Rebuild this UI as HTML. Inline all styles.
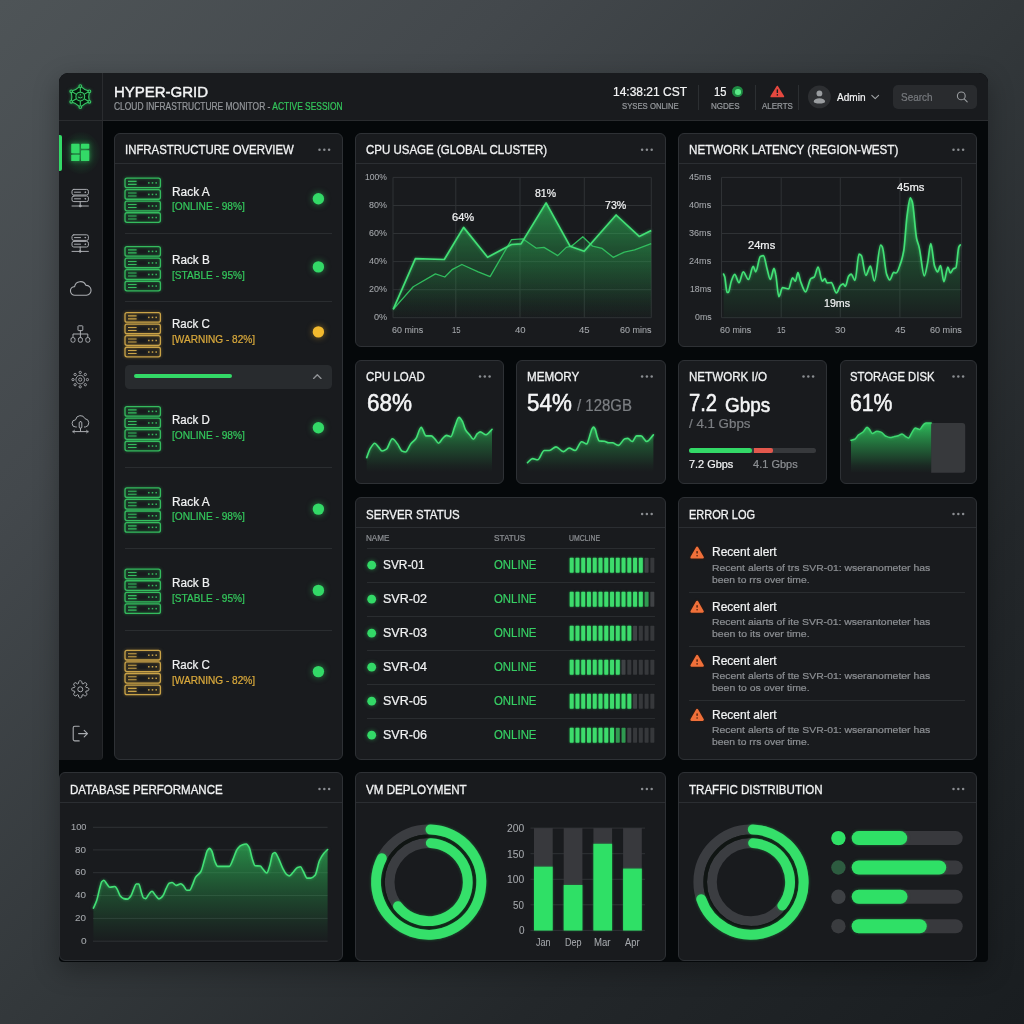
<!DOCTYPE html>
<html><head><meta charset="utf-8"><title>HYPER-GRID</title>
<style>
*{box-sizing:border-box;margin:0;padding:0}
html,body{width:1024px;height:1024px;overflow:hidden}
body{font-family:"Liberation Sans",sans-serif;background:linear-gradient(to bottom right,rgb(78,84,87) 0%,rgb(67,72,76) 25%,rgb(51,56,59) 50%,rgb(35,39,42) 75%,rgb(25,29,32) 100%);position:relative;color:#f1f2f3}
.abs{position:absolute}
#win{position:absolute;left:59px;top:73px;width:929.4px;height:889px;background:#05080a;border-radius:9px 9px 4px 4px;overflow:hidden;box-shadow:0 8px 26px rgba(0,0,0,.30)}
#hdr{position:absolute;left:59px;top:73px;width:929.4px;height:48px;background:#191b1e;border-radius:9px 9px 0 0;border-bottom:1px solid #2a2c2f}
#side{position:absolute;left:59px;top:121px;width:44px;height:638.6px;background:#181a1d;border-right:1px solid #26282b;border-radius:0 0 4px 0}
#logoCell{position:absolute;left:59px;top:73px;width:43.6px;height:48px;border-right:1px solid #2a2c2f}
.card{position:absolute;background:#191b1e;border:1px solid #2e3135;border-radius:6px}
.ct{position:absolute;font-size:12.5px;color:#f1f2f3;white-space:nowrap;letter-spacing:-0.1px}
.hl{position:absolute;height:1px;background:#2b2e32}
.t{position:absolute;white-space:nowrap;line-height:1;-webkit-text-stroke:0.22px currentColor}
.g{color:#8c8f93}
.gr{color:#34c75c}
.yl{color:#d9a93c}
svg{position:absolute;left:0;top:0;overflow:visible}
#root{position:absolute;left:0;top:0;width:1024px;height:1024px;will-change:transform}
</style></head><body><div id="root">
<div id="win"></div>
<div id="hdr"></div>
<div id="logoCell"></div>
<div id="side"></div>

<div class="card" style="left:114px;top:133px;width:229px;height:627px"></div>
<div class="t" style="left:124.70px;top:144.18px;font-size:12.4px;color:#f1f2f3;transform:scaleX(0.9198);transform-origin:0 0;-webkit-text-stroke:0.3px #f1f2f3;">INFRASTRUCTURE OVERVIEW</div>
<div class="hl" style="left:115px;top:163.0px;width:227px"></div>
<svg width="1024" height="1024"><g fill="#8a8d91"><circle cx="319.5" cy="149.7" r="1.25"/><circle cx="324.3" cy="149.7" r="1.25"/><circle cx="329.1" cy="149.7" r="1.25"/></g></svg>
<div class="card" style="left:355px;top:133px;width:310.6px;height:214px"></div>
<div class="t" style="left:365.70px;top:144.18px;font-size:12.4px;color:#f1f2f3;transform:scaleX(0.9281);transform-origin:0 0;-webkit-text-stroke:0.3px #f1f2f3;">CPU USAGE (GLOBAL CLUSTER)</div>
<div class="hl" style="left:356px;top:163.0px;width:308.6px"></div>
<svg width="1024" height="1024"><g fill="#8a8d91"><circle cx="642.1" cy="149.7" r="1.25"/><circle cx="646.9" cy="149.7" r="1.25"/><circle cx="651.7" cy="149.7" r="1.25"/></g></svg>
<div class="card" style="left:678px;top:133px;width:299px;height:214px"></div>
<div class="t" style="left:689.00px;top:144.18px;font-size:12.4px;color:#f1f2f3;transform:scaleX(0.9376);transform-origin:0 0;-webkit-text-stroke:0.3px #f1f2f3;">NETWORK LATENCY (REGION-WEST)</div>
<div class="hl" style="left:679px;top:163.0px;width:297px"></div>
<svg width="1024" height="1024"><g fill="#8a8d91"><circle cx="953.5" cy="149.7" r="1.25"/><circle cx="958.3" cy="149.7" r="1.25"/><circle cx="963.1" cy="149.7" r="1.25"/></g></svg>
<div class="card" style="left:355px;top:359.5px;width:148.5px;height:124.5px"></div>
<div class="t" style="left:365.70px;top:371.08px;font-size:12.4px;color:#f1f2f3;transform:scaleX(0.9275);transform-origin:0 0;-webkit-text-stroke:0.3px #f1f2f3;">CPU LOAD</div>
<svg width="1024" height="1024"><g fill="#8a8d91"><circle cx="480.0" cy="376.6" r="1.25"/><circle cx="484.8" cy="376.6" r="1.25"/><circle cx="489.6" cy="376.6" r="1.25"/></g></svg>
<div class="card" style="left:516px;top:359.5px;width:149.6px;height:124.5px"></div>
<div class="t" style="left:527.00px;top:371.08px;font-size:12.4px;color:#f1f2f3;transform:scaleX(0.9391);transform-origin:0 0;-webkit-text-stroke:0.3px #f1f2f3;">MEMORY</div>
<svg width="1024" height="1024"><g fill="#8a8d91"><circle cx="642.1" cy="376.6" r="1.25"/><circle cx="646.9" cy="376.6" r="1.25"/><circle cx="651.7" cy="376.6" r="1.25"/></g></svg>
<div class="card" style="left:678px;top:359.5px;width:149px;height:124.5px"></div>
<div class="t" style="left:689.00px;top:371.08px;font-size:12.4px;color:#f1f2f3;transform:scaleX(0.9357);transform-origin:0 0;-webkit-text-stroke:0.3px #f1f2f3;">NETWORK I/O</div>
<svg width="1024" height="1024"><g fill="#8a8d91"><circle cx="803.5" cy="376.6" r="1.25"/><circle cx="808.3" cy="376.6" r="1.25"/><circle cx="813.1" cy="376.6" r="1.25"/></g></svg>
<div class="card" style="left:839.5px;top:359.5px;width:137.5px;height:124.5px"></div>
<div class="t" style="left:850.20px;top:371.08px;font-size:12.4px;color:#f1f2f3;transform:scaleX(0.9107);transform-origin:0 0;-webkit-text-stroke:0.3px #f1f2f3;">STORAGE DISK</div>
<svg width="1024" height="1024"><g fill="#8a8d91"><circle cx="953.5" cy="376.6" r="1.25"/><circle cx="958.3" cy="376.6" r="1.25"/><circle cx="963.1" cy="376.6" r="1.25"/></g></svg>
<div class="card" style="left:355px;top:497px;width:310.6px;height:263px"></div>
<div class="t" style="left:365.70px;top:508.58px;font-size:12.4px;color:#f1f2f3;transform:scaleX(0.9242);transform-origin:0 0;-webkit-text-stroke:0.3px #f1f2f3;">SERVER STATUS</div>
<div class="hl" style="left:356px;top:527.4px;width:308.6px"></div>
<svg width="1024" height="1024"><g fill="#8a8d91"><circle cx="642.1" cy="514.1" r="1.25"/><circle cx="646.9" cy="514.1" r="1.25"/><circle cx="651.7" cy="514.1" r="1.25"/></g></svg>
<div class="card" style="left:678px;top:497px;width:299px;height:263px"></div>
<div class="t" style="left:689.00px;top:508.58px;font-size:12.4px;color:#f1f2f3;transform:scaleX(0.8884);transform-origin:0 0;-webkit-text-stroke:0.3px #f1f2f3;">ERROR LOG</div>
<div class="hl" style="left:679px;top:527.4px;width:297px"></div>
<svg width="1024" height="1024"><g fill="#8a8d91"><circle cx="953.5" cy="514.1" r="1.25"/><circle cx="958.3" cy="514.1" r="1.25"/><circle cx="963.1" cy="514.1" r="1.25"/></g></svg>
<div class="card" style="left:59px;top:772px;width:284px;height:189px"></div>
<div class="t" style="left:70.30px;top:783.58px;font-size:12.4px;color:#f1f2f3;transform:scaleX(0.9305);transform-origin:0 0;-webkit-text-stroke:0.3px #f1f2f3;">DATABASE PERFORMANCE</div>
<div class="hl" style="left:60px;top:802.4px;width:282px"></div>
<svg width="1024" height="1024"><g fill="#8a8d91"><circle cx="319.5" cy="789.1" r="1.25"/><circle cx="324.3" cy="789.1" r="1.25"/><circle cx="329.1" cy="789.1" r="1.25"/></g></svg>
<div class="card" style="left:355px;top:772px;width:310.6px;height:189px"></div>
<div class="t" style="left:365.70px;top:783.58px;font-size:12.4px;color:#f1f2f3;transform:scaleX(0.9369);transform-origin:0 0;-webkit-text-stroke:0.3px #f1f2f3;">VM DEPLOYMENT</div>
<div class="hl" style="left:356px;top:802.4px;width:308.6px"></div>
<svg width="1024" height="1024"><g fill="#8a8d91"><circle cx="642.1" cy="789.1" r="1.25"/><circle cx="646.9" cy="789.1" r="1.25"/><circle cx="651.7" cy="789.1" r="1.25"/></g></svg>
<div class="card" style="left:678px;top:772px;width:299px;height:189px"></div>
<div class="t" style="left:689.20px;top:783.58px;font-size:12.4px;color:#f1f2f3;transform:scaleX(0.9324);transform-origin:0 0;-webkit-text-stroke:0.3px #f1f2f3;">TRAFFIC DISTRIBUTION</div>
<div class="hl" style="left:679px;top:802.4px;width:297px"></div>
<svg width="1024" height="1024"><g fill="#8a8d91"><circle cx="953.5" cy="789.1" r="1.25"/><circle cx="958.3" cy="789.1" r="1.25"/><circle cx="963.1" cy="789.1" r="1.25"/></g></svg>
<svg width="1024" height="1024"><g fill="none" stroke="#38c766" stroke-width="1.08" stroke-linejoin="round" style="filter:drop-shadow(0 0 1.4px rgba(40,200,90,.5))">
<path d="M80.30,86.10 Q84.21,89.83 89.39,91.35 Q88.12,96.60 89.39,101.85 Q84.21,103.37 80.30,107.10 Q76.39,103.37 71.21,101.85 Q72.48,96.60 71.21,91.35 Q76.39,89.83 80.30,86.10Z" fill="#07170d"/><path d="M80.3,92.2 L80.3,86.1 M84.1,94.4 L89.4,91.3 M84.1,98.8 L89.4,101.8 M80.3,101.0 L80.3,107.1 M76.5,98.8 L71.2,101.8 M76.5,94.4 L71.2,91.3 "/><circle cx="80.3" cy="96.6" r="4.4" fill="#0d2a17"/><circle cx="80.3" cy="86.1" r="1.35" fill="#123a20"/><circle cx="89.4" cy="91.3" r="1.35" fill="#123a20"/><circle cx="89.4" cy="101.8" r="1.35" fill="#123a20"/><circle cx="80.3" cy="107.1" r="1.35" fill="#123a20"/><circle cx="71.2" cy="101.8" r="1.35" fill="#123a20"/><circle cx="71.2" cy="91.3" r="1.35" fill="#123a20"/>
<path d="M78.0,97.0 q2.3,1.9 4.6,0" stroke-width="1"/><path d="M80.3,94.0 v1.4" stroke-width="0.9"/></g></svg>
<div class="t" style="left:113.90px;top:84.24px;font-size:15px;color:#f3f4f5;-webkit-text-stroke:0.45px #f3f4f5;">HYPER-GRID</div>
<div class="t" style="left:113.90px;top:101.94px;font-size:10.4px;color:#95989c;transform:scaleX(0.8120);transform-origin:0 0;">CLOUD INFRASTRUCTURE MONITOR - <span style="color:#34c75c">ACTIVE SESSION</span></div>
<div class="t" style="left:613.00px;top:86.26px;font-size:12.6px;color:#f3f4f5;transform:scaleX(0.9519);transform-origin:0 0;">14:38:21 CST</div>
<div class="t" style="left:622.00px;top:101.79px;font-size:8.5px;color:#95989c;transform:scaleX(0.9094);transform-origin:0 0;">SYSES ONLINE</div>
<div class="abs" style="left:698px;top:85px;width:1px;height:25px;background:#2c2f32"></div>
<div class="t" style="left:714.30px;top:86.26px;font-size:12.6px;color:#f3f4f5;transform:scaleX(0.8846);transform-origin:0 0;">15</div>
<div class="abs" style="left:732.2px;top:86.2px;width:11.2px;height:11.2px;border-radius:50%;background:#1f8a43"></div>
<div class="abs" style="left:735px;top:89px;width:5.6px;height:5.6px;border-radius:50%;background:#5bea88"></div>
<div class="t" style="left:711.20px;top:101.79px;font-size:8.5px;color:#95989c;transform:scaleX(0.9432);transform-origin:0 0;">NGDES</div>
<div class="abs" style="left:755px;top:85px;width:1px;height:25px;background:#2c2f32"></div>
<svg width="1024" height="1024"><path d="M777.3,86.6 L783.3,96.4 L771.3,96.4 Z" fill="#e5483f" stroke="#e5483f" stroke-width="1.8" stroke-linejoin="round"/>
<rect x="776.65" y="89.3" width="1.4" height="3.8" rx="0.6" fill="#1b1d20"/><circle cx="777.35" cy="94.9" r="0.8" fill="#1b1d20"/></svg>
<div class="t" style="left:761.70px;top:101.79px;font-size:8.5px;color:#95989c;transform:scaleX(0.9357);transform-origin:0 0;">ALERTS</div>
<div class="abs" style="left:798px;top:85px;width:1px;height:25px;background:#2c2f32"></div>
<svg width="1024" height="1024"><circle cx="819.4" cy="96.9" r="11.4" fill="#2d2f32"/>
<circle cx="819.4" cy="93.4" r="2.9" fill="#9a9da0"/><path d="M813.7,101.7 a5.7,3.4 0 0 1 11.4,0 a5.7,1.8 0 0 1 -11.4,0Z" fill="#9a9da0"/></svg>
<div class="t" style="left:837.10px;top:92.14px;font-size:11.2px;color:#f3f4f5;transform:scaleX(0.9007);transform-origin:0 0;">Admin</div>
<svg width="1024" height="1024"><path d="M871.8,95.3 L875.2,98.6 L878.6,95.3" fill="none" stroke="#a0a3a6" stroke-width="1.1" stroke-linecap="round" stroke-linejoin="round"/></svg>
<div class="abs" style="left:892.5px;top:85px;width:84.5px;height:24px;border-radius:5px;background:#292b2e"></div>
<div class="t" style="left:900.70px;top:92.14px;font-size:11.2px;color:#777a7e;transform:scaleX(0.8879);transform-origin:0 0;">Search</div>
<svg width="1024" height="1024"><circle cx="961.3" cy="95.9" r="3.9" fill="none" stroke="#9a9da0" stroke-width="1.1"/><path d="M964.2,98.8 L967.2,101.8" stroke="#9a9da0" stroke-width="1.1" stroke-linecap="round"/></svg>
<div class="abs" style="left:59px;top:135px;width:3.2px;height:36px;background:#33d967;border-radius:0 2px 2px 0"></div>
<div class="abs" style="left:62px;top:132px;width:38px;height:42px;background:radial-gradient(ellipse at center,rgba(40,200,90,.26) 0%,rgba(40,200,90,.11) 45%,rgba(40,200,90,0) 74%)"></div>
<svg width="1024" height="1024"><g fill="#33d967" style="filter:drop-shadow(0 0 2.5px rgba(50,220,100,.6))">
<rect x="71.2" y="143.8" width="8.3" height="9.4" rx="0.6"/><rect x="71.2" y="154.7" width="8.3" height="6.3" rx="0.6"/>
<rect x="81" y="143.8" width="8.3" height="4.9" rx="0.6"/><rect x="81" y="150.2" width="8.3" height="10.8" rx="0.6"/></g></svg>
<svg width="1024" height="1024"><g fill="none" stroke="#a9acb0" stroke-width="1" stroke-linecap="round">
<rect x="72" y="189.4" width="16.4" height="5.6" rx="1.8"/><rect x="72" y="196.0" width="16.4" height="5.6" rx="1.8"/>
<path d="M74.5,192.20000000000002 h6 M74.5,198.8 h6 M80.2,201.6 v3.8 M72,206.0 h16.4"/>
<circle cx="85.2" cy="192.20000000000002" r="0.4"/><circle cx="85.2" cy="198.8" r="0.4"/><circle cx="80.2" cy="206.0" r="0.9" fill="#a9acb0"/></g><g fill="none" stroke="#a9acb0" stroke-width="1" stroke-linecap="round">
<rect x="72" y="234.8" width="16.4" height="5.6" rx="1.8"/><rect x="72" y="241.4" width="16.4" height="5.6" rx="1.8"/>
<path d="M74.5,237.60000000000002 h6 M74.5,244.20000000000002 h6 M80.2,247.0 v3.8 M72,251.4 h16.4"/>
<circle cx="85.2" cy="237.60000000000002" r="0.4"/><circle cx="85.2" cy="244.20000000000002" r="0.4"/><circle cx="80.2" cy="251.4" r="0.9" fill="#a9acb0"/></g></svg>
<svg width="1024" height="1024"><path d="M74.9,295.2 a4.3,4.3 0 0 1 -0.3,-8.6 a5.9,5.9 0 0 1 11.3,-1.2 a4.9,4.9 0 0 1 0.5,9.8 Z" fill="none" stroke="#a9acb0" stroke-width="1.1" stroke-linejoin="round"/></svg>
<svg width="1024" height="1024"><g fill="none" stroke="#a9acb0" stroke-width="1" stroke-linejoin="round">
<rect x="78" y="325.8" width="4.8" height="4.8" rx="0.6"/><path d="M80.4,330.6 v3.4 M73,337.6 v-3.6 h14.8 v3.6 M80.4,334 v3.6"/>
<rect x="71" y="337.6" width="4" height="4.6" rx="1.6"/><rect x="78.4" y="337.6" width="4" height="4.6" rx="1.6"/><rect x="85.8" y="337.6" width="4" height="4.6" rx="1.6"/></g></svg>
<svg width="1024" height="1024"><g fill="none" stroke="#a9acb0" stroke-width="0.9"><circle cx="80.2" cy="379.6" r="4.3"/><circle cx="80.2" cy="379.6" r="1.6"/><circle cx="80.2" cy="372.4" r="1.15"/><circle cx="85.3" cy="374.5" r="1.15"/><circle cx="87.4" cy="379.6" r="1.15"/><circle cx="85.3" cy="384.7" r="1.15"/><circle cx="80.2" cy="386.8" r="1.15"/><circle cx="75.1" cy="384.7" r="1.15"/><circle cx="73.0" cy="379.6" r="1.15"/><circle cx="75.1" cy="374.5" r="1.15"/></g></svg>
<svg width="1024" height="1024"><g fill="none" stroke="#a9acb0" stroke-width="1" stroke-linejoin="round" stroke-linecap="round">
<path d="M76.4,427 h-0.6 a3.6,3.6 0 0 1 -0.2,-7.2 a4.9,4.9 0 0 1 9.4,-1.1 a4.2,4.2 0 0 1 0.4,8.3 h-1"/>
<rect x="79.2" y="421.6" width="2.6" height="6.6" rx="1.2"/><path d="M80.5,428.2 v3 M73,431.6 h15 M73,431.6 l1.4,-1.2 M73,431.6 l1.4,1.2 M88,431.6 l-1.4,-1.2 M88,431.6 l-1.4,1.2"/></g></svg>
<svg width="1024" height="1024"><g fill="none" stroke="#a9acb0" stroke-width="1" stroke-linejoin="round"><path d="M78.79,681.55 A1.8,1.8 0 0 1 81.81,681.55 L82.14,683.59 L83.04,683.96 L84.72,682.75 A1.8,1.8 0 0 1 86.85,684.88 L85.64,686.56 L86.01,687.46 L88.05,687.79 A1.8,1.8 0 0 1 88.05,690.81 L86.01,691.14 L85.64,692.04 L86.85,693.72 A1.8,1.8 0 0 1 84.72,695.85 L83.04,694.64 L82.14,695.01 L81.81,697.05 A1.8,1.8 0 0 1 78.79,697.05 L78.46,695.01 L77.56,694.64 L75.88,695.85 A1.8,1.8 0 0 1 73.75,693.72 L74.96,692.04 L74.59,691.14 L72.55,690.81 A1.8,1.8 0 0 1 72.55,687.79 L74.59,687.46 L74.96,686.56 L73.75,684.88 A1.8,1.8 0 0 1 75.88,682.75 L77.56,683.96 L78.46,683.59 Z"/><circle cx="80.3" cy="689.3" r="2.5"/></g></svg>
<svg width="1024" height="1024"><g fill="none" stroke="#a9acb0" stroke-width="1.1" stroke-linejoin="round" stroke-linecap="round">
<path d="M79.2,726.2 h-4.4 a1.6,1.6 0 0 0 -1.6,1.6 v11.5 a1.6,1.6 0 0 0 1.6,1.6 h4.4"/><path d="M78.6,733.6 h8.8 M84.2,730.4 l3.3,3.2 l-3.3,3.2"/></g></svg>
<svg width="1024" height="1024"><g fill="none" stroke="#35bb5e" stroke-width="1.3" style="filter:drop-shadow(0 0 1.6px rgba(40,200,90,.55))"><rect x="125" y="178.10" width="35.4" height="9.6" rx="2"/><path d="M128,181.40 h8.6 M128,184.40 h8.6" stroke-width="1.1"/><rect x="148.05" y="182.15" width="1.5" height="1.5" fill="#35bb5e" stroke="none"/><rect x="151.75" y="182.15" width="1.5" height="1.5" fill="#35bb5e" stroke="none"/><rect x="155.45" y="182.15" width="1.5" height="1.5" fill="#35bb5e" stroke="none"/><rect x="125" y="189.65" width="35.4" height="9.6" rx="2"/><path d="M128,192.95 h8.6 M128,195.95 h8.6" stroke-width="1.1"/><rect x="148.05" y="193.70" width="1.5" height="1.5" fill="#35bb5e" stroke="none"/><rect x="151.75" y="193.70" width="1.5" height="1.5" fill="#35bb5e" stroke="none"/><rect x="155.45" y="193.70" width="1.5" height="1.5" fill="#35bb5e" stroke="none"/><rect x="125" y="201.20" width="35.4" height="9.6" rx="2"/><path d="M128,204.50 h8.6 M128,207.50 h8.6" stroke-width="1.1"/><rect x="148.05" y="205.25" width="1.5" height="1.5" fill="#35bb5e" stroke="none"/><rect x="151.75" y="205.25" width="1.5" height="1.5" fill="#35bb5e" stroke="none"/><rect x="155.45" y="205.25" width="1.5" height="1.5" fill="#35bb5e" stroke="none"/><rect x="125" y="212.75" width="35.4" height="9.6" rx="2"/><path d="M128,216.05 h8.6 M128,219.05 h8.6" stroke-width="1.1"/><rect x="148.05" y="216.80" width="1.5" height="1.5" fill="#35bb5e" stroke="none"/><rect x="151.75" y="216.80" width="1.5" height="1.5" fill="#35bb5e" stroke="none"/><rect x="155.45" y="216.80" width="1.5" height="1.5" fill="#35bb5e" stroke="none"/></g><circle cx="318.4" cy="198.8" r="5.7" fill="#33d967" style="filter:drop-shadow(0 0 3px rgba(50,220,100,.55))"/><g fill="none" stroke="#35bb5e" stroke-width="1.3" style="filter:drop-shadow(0 0 1.6px rgba(40,200,90,.55))"><rect x="125" y="246.60" width="35.4" height="9.6" rx="2"/><path d="M128,249.90 h8.6 M128,252.90 h8.6" stroke-width="1.1"/><rect x="148.05" y="250.65" width="1.5" height="1.5" fill="#35bb5e" stroke="none"/><rect x="151.75" y="250.65" width="1.5" height="1.5" fill="#35bb5e" stroke="none"/><rect x="155.45" y="250.65" width="1.5" height="1.5" fill="#35bb5e" stroke="none"/><rect x="125" y="258.15" width="35.4" height="9.6" rx="2"/><path d="M128,261.45 h8.6 M128,264.45 h8.6" stroke-width="1.1"/><rect x="148.05" y="262.20" width="1.5" height="1.5" fill="#35bb5e" stroke="none"/><rect x="151.75" y="262.20" width="1.5" height="1.5" fill="#35bb5e" stroke="none"/><rect x="155.45" y="262.20" width="1.5" height="1.5" fill="#35bb5e" stroke="none"/><rect x="125" y="269.70" width="35.4" height="9.6" rx="2"/><path d="M128,273.00 h8.6 M128,276.00 h8.6" stroke-width="1.1"/><rect x="148.05" y="273.75" width="1.5" height="1.5" fill="#35bb5e" stroke="none"/><rect x="151.75" y="273.75" width="1.5" height="1.5" fill="#35bb5e" stroke="none"/><rect x="155.45" y="273.75" width="1.5" height="1.5" fill="#35bb5e" stroke="none"/><rect x="125" y="281.25" width="35.4" height="9.6" rx="2"/><path d="M128,284.55 h8.6 M128,287.55 h8.6" stroke-width="1.1"/><rect x="148.05" y="285.30" width="1.5" height="1.5" fill="#35bb5e" stroke="none"/><rect x="151.75" y="285.30" width="1.5" height="1.5" fill="#35bb5e" stroke="none"/><rect x="155.45" y="285.30" width="1.5" height="1.5" fill="#35bb5e" stroke="none"/></g><circle cx="318.4" cy="266.9" r="5.7" fill="#33d967" style="filter:drop-shadow(0 0 3px rgba(50,220,100,.55))"/><g fill="none" stroke="#c9a348" stroke-width="1.3" style="filter:drop-shadow(0 0 1.6px rgba(220,170,60,.5))"><rect x="125" y="312.60" width="35.4" height="9.6" rx="2"/><path d="M128,315.90 h8.6 M128,318.90 h8.6" stroke-width="1.1"/><rect x="148.05" y="316.65" width="1.5" height="1.5" fill="#c9a348" stroke="none"/><rect x="151.75" y="316.65" width="1.5" height="1.5" fill="#c9a348" stroke="none"/><rect x="155.45" y="316.65" width="1.5" height="1.5" fill="#c9a348" stroke="none"/><rect x="125" y="324.15" width="35.4" height="9.6" rx="2"/><path d="M128,327.45 h8.6 M128,330.45 h8.6" stroke-width="1.1"/><rect x="148.05" y="328.20" width="1.5" height="1.5" fill="#c9a348" stroke="none"/><rect x="151.75" y="328.20" width="1.5" height="1.5" fill="#c9a348" stroke="none"/><rect x="155.45" y="328.20" width="1.5" height="1.5" fill="#c9a348" stroke="none"/><rect x="125" y="335.70" width="35.4" height="9.6" rx="2"/><path d="M128,339.00 h8.6 M128,342.00 h8.6" stroke-width="1.1"/><rect x="148.05" y="339.75" width="1.5" height="1.5" fill="#c9a348" stroke="none"/><rect x="151.75" y="339.75" width="1.5" height="1.5" fill="#c9a348" stroke="none"/><rect x="155.45" y="339.75" width="1.5" height="1.5" fill="#c9a348" stroke="none"/><rect x="125" y="347.25" width="35.4" height="9.6" rx="2"/><path d="M128,350.55 h8.6 M128,353.55 h8.6" stroke-width="1.1"/><rect x="148.05" y="351.30" width="1.5" height="1.5" fill="#c9a348" stroke="none"/><rect x="151.75" y="351.30" width="1.5" height="1.5" fill="#c9a348" stroke="none"/><rect x="155.45" y="351.30" width="1.5" height="1.5" fill="#c9a348" stroke="none"/></g><circle cx="318.4" cy="331.9" r="5.7" fill="#f2b92e" style="filter:drop-shadow(0 0 3px rgba(240,180,40,.5))"/><g fill="none" stroke="#35bb5e" stroke-width="1.3" style="filter:drop-shadow(0 0 1.6px rgba(40,200,90,.55))"><rect x="125" y="406.60" width="35.4" height="9.6" rx="2"/><path d="M128,409.90 h8.6 M128,412.90 h8.6" stroke-width="1.1"/><rect x="148.05" y="410.65" width="1.5" height="1.5" fill="#35bb5e" stroke="none"/><rect x="151.75" y="410.65" width="1.5" height="1.5" fill="#35bb5e" stroke="none"/><rect x="155.45" y="410.65" width="1.5" height="1.5" fill="#35bb5e" stroke="none"/><rect x="125" y="418.15" width="35.4" height="9.6" rx="2"/><path d="M128,421.45 h8.6 M128,424.45 h8.6" stroke-width="1.1"/><rect x="148.05" y="422.20" width="1.5" height="1.5" fill="#35bb5e" stroke="none"/><rect x="151.75" y="422.20" width="1.5" height="1.5" fill="#35bb5e" stroke="none"/><rect x="155.45" y="422.20" width="1.5" height="1.5" fill="#35bb5e" stroke="none"/><rect x="125" y="429.70" width="35.4" height="9.6" rx="2"/><path d="M128,433.00 h8.6 M128,436.00 h8.6" stroke-width="1.1"/><rect x="148.05" y="433.75" width="1.5" height="1.5" fill="#35bb5e" stroke="none"/><rect x="151.75" y="433.75" width="1.5" height="1.5" fill="#35bb5e" stroke="none"/><rect x="155.45" y="433.75" width="1.5" height="1.5" fill="#35bb5e" stroke="none"/><rect x="125" y="441.25" width="35.4" height="9.6" rx="2"/><path d="M128,444.55 h8.6 M128,447.55 h8.6" stroke-width="1.1"/><rect x="148.05" y="445.30" width="1.5" height="1.5" fill="#35bb5e" stroke="none"/><rect x="151.75" y="445.30" width="1.5" height="1.5" fill="#35bb5e" stroke="none"/><rect x="155.45" y="445.30" width="1.5" height="1.5" fill="#35bb5e" stroke="none"/></g><circle cx="318.4" cy="427.8" r="5.7" fill="#33d967" style="filter:drop-shadow(0 0 3px rgba(50,220,100,.55))"/><g fill="none" stroke="#35bb5e" stroke-width="1.3" style="filter:drop-shadow(0 0 1.6px rgba(40,200,90,.55))"><rect x="125" y="487.90" width="35.4" height="9.6" rx="2"/><path d="M128,491.20 h8.6 M128,494.20 h8.6" stroke-width="1.1"/><rect x="148.05" y="491.95" width="1.5" height="1.5" fill="#35bb5e" stroke="none"/><rect x="151.75" y="491.95" width="1.5" height="1.5" fill="#35bb5e" stroke="none"/><rect x="155.45" y="491.95" width="1.5" height="1.5" fill="#35bb5e" stroke="none"/><rect x="125" y="499.45" width="35.4" height="9.6" rx="2"/><path d="M128,502.75 h8.6 M128,505.75 h8.6" stroke-width="1.1"/><rect x="148.05" y="503.50" width="1.5" height="1.5" fill="#35bb5e" stroke="none"/><rect x="151.75" y="503.50" width="1.5" height="1.5" fill="#35bb5e" stroke="none"/><rect x="155.45" y="503.50" width="1.5" height="1.5" fill="#35bb5e" stroke="none"/><rect x="125" y="511.00" width="35.4" height="9.6" rx="2"/><path d="M128,514.30 h8.6 M128,517.30 h8.6" stroke-width="1.1"/><rect x="148.05" y="515.05" width="1.5" height="1.5" fill="#35bb5e" stroke="none"/><rect x="151.75" y="515.05" width="1.5" height="1.5" fill="#35bb5e" stroke="none"/><rect x="155.45" y="515.05" width="1.5" height="1.5" fill="#35bb5e" stroke="none"/><rect x="125" y="522.55" width="35.4" height="9.6" rx="2"/><path d="M128,525.85 h8.6 M128,528.85 h8.6" stroke-width="1.1"/><rect x="148.05" y="526.60" width="1.5" height="1.5" fill="#35bb5e" stroke="none"/><rect x="151.75" y="526.60" width="1.5" height="1.5" fill="#35bb5e" stroke="none"/><rect x="155.45" y="526.60" width="1.5" height="1.5" fill="#35bb5e" stroke="none"/></g><circle cx="318.4" cy="509.1" r="5.7" fill="#33d967" style="filter:drop-shadow(0 0 3px rgba(50,220,100,.55))"/><g fill="none" stroke="#35bb5e" stroke-width="1.3" style="filter:drop-shadow(0 0 1.6px rgba(40,200,90,.55))"><rect x="125" y="569.20" width="35.4" height="9.6" rx="2"/><path d="M128,572.50 h8.6 M128,575.50 h8.6" stroke-width="1.1"/><rect x="148.05" y="573.25" width="1.5" height="1.5" fill="#35bb5e" stroke="none"/><rect x="151.75" y="573.25" width="1.5" height="1.5" fill="#35bb5e" stroke="none"/><rect x="155.45" y="573.25" width="1.5" height="1.5" fill="#35bb5e" stroke="none"/><rect x="125" y="580.75" width="35.4" height="9.6" rx="2"/><path d="M128,584.05 h8.6 M128,587.05 h8.6" stroke-width="1.1"/><rect x="148.05" y="584.80" width="1.5" height="1.5" fill="#35bb5e" stroke="none"/><rect x="151.75" y="584.80" width="1.5" height="1.5" fill="#35bb5e" stroke="none"/><rect x="155.45" y="584.80" width="1.5" height="1.5" fill="#35bb5e" stroke="none"/><rect x="125" y="592.30" width="35.4" height="9.6" rx="2"/><path d="M128,595.60 h8.6 M128,598.60 h8.6" stroke-width="1.1"/><rect x="148.05" y="596.35" width="1.5" height="1.5" fill="#35bb5e" stroke="none"/><rect x="151.75" y="596.35" width="1.5" height="1.5" fill="#35bb5e" stroke="none"/><rect x="155.45" y="596.35" width="1.5" height="1.5" fill="#35bb5e" stroke="none"/><rect x="125" y="603.85" width="35.4" height="9.6" rx="2"/><path d="M128,607.15 h8.6 M128,610.15 h8.6" stroke-width="1.1"/><rect x="148.05" y="607.90" width="1.5" height="1.5" fill="#35bb5e" stroke="none"/><rect x="151.75" y="607.90" width="1.5" height="1.5" fill="#35bb5e" stroke="none"/><rect x="155.45" y="607.90" width="1.5" height="1.5" fill="#35bb5e" stroke="none"/></g><circle cx="318.4" cy="590.4" r="5.7" fill="#33d967" style="filter:drop-shadow(0 0 3px rgba(50,220,100,.55))"/><g fill="none" stroke="#c9a348" stroke-width="1.3" style="filter:drop-shadow(0 0 1.6px rgba(220,170,60,.5))"><rect x="125" y="650.40" width="35.4" height="9.6" rx="2"/><path d="M128,653.70 h8.6 M128,656.70 h8.6" stroke-width="1.1"/><rect x="148.05" y="654.45" width="1.5" height="1.5" fill="#c9a348" stroke="none"/><rect x="151.75" y="654.45" width="1.5" height="1.5" fill="#c9a348" stroke="none"/><rect x="155.45" y="654.45" width="1.5" height="1.5" fill="#c9a348" stroke="none"/><rect x="125" y="661.95" width="35.4" height="9.6" rx="2"/><path d="M128,665.25 h8.6 M128,668.25 h8.6" stroke-width="1.1"/><rect x="148.05" y="666.00" width="1.5" height="1.5" fill="#c9a348" stroke="none"/><rect x="151.75" y="666.00" width="1.5" height="1.5" fill="#c9a348" stroke="none"/><rect x="155.45" y="666.00" width="1.5" height="1.5" fill="#c9a348" stroke="none"/><rect x="125" y="673.50" width="35.4" height="9.6" rx="2"/><path d="M128,676.80 h8.6 M128,679.80 h8.6" stroke-width="1.1"/><rect x="148.05" y="677.55" width="1.5" height="1.5" fill="#c9a348" stroke="none"/><rect x="151.75" y="677.55" width="1.5" height="1.5" fill="#c9a348" stroke="none"/><rect x="155.45" y="677.55" width="1.5" height="1.5" fill="#c9a348" stroke="none"/><rect x="125" y="685.05" width="35.4" height="9.6" rx="2"/><path d="M128,688.35 h8.6 M128,691.35 h8.6" stroke-width="1.1"/><rect x="148.05" y="689.10" width="1.5" height="1.5" fill="#c9a348" stroke="none"/><rect x="151.75" y="689.10" width="1.5" height="1.5" fill="#c9a348" stroke="none"/><rect x="155.45" y="689.10" width="1.5" height="1.5" fill="#c9a348" stroke="none"/></g><circle cx="318.4" cy="671.6" r="5.7" fill="#33d967" style="filter:drop-shadow(0 0 3px rgba(50,220,100,.55))"/></svg>
<div class="t" style="left:172.40px;top:185.68px;font-size:12px;color:#f1f2f3;transform:scaleX(0.9918);transform-origin:0 0;">Rack A</div>
<div class="t" style="left:172.40px;top:201.13px;font-size:10.5px;color:#34c75c;transform:scaleX(0.9683);transform-origin:0 0;">[ONLINE - 98%]</div>
<div class="t" style="left:172.40px;top:254.03px;font-size:12px;color:#f1f2f3;transform:scaleX(0.9749);transform-origin:0 0;">Rack B</div>
<div class="t" style="left:172.40px;top:269.88px;font-size:10.5px;color:#34c75c;transform:scaleX(0.9633);transform-origin:0 0;">[STABLE - 95%]</div>
<div class="t" style="left:172.40px;top:318.18px;font-size:12px;color:#f1f2f3;transform:scaleX(0.9586);transform-origin:0 0;">Rack C</div>
<div class="t" style="left:172.40px;top:333.63px;font-size:10.5px;color:#d9a93c;transform:scaleX(0.9602);transform-origin:0 0;">[WARNING - 82%]</div>
<div class="t" style="left:172.40px;top:414.43px;font-size:12px;color:#f1f2f3;transform:scaleX(0.9586);transform-origin:0 0;">Rack D</div>
<div class="t" style="left:172.40px;top:430.13px;font-size:10.5px;color:#34c75c;transform:scaleX(0.9683);transform-origin:0 0;">[ONLINE - 98%]</div>
<div class="t" style="left:172.40px;top:495.98px;font-size:12px;color:#f1f2f3;transform:scaleX(0.9918);transform-origin:0 0;">Rack A</div>
<div class="t" style="left:172.40px;top:511.18px;font-size:10.5px;color:#34c75c;transform:scaleX(0.9683);transform-origin:0 0;">[ONLINE - 98%]</div>
<div class="t" style="left:172.40px;top:577.18px;font-size:12px;color:#f1f2f3;transform:scaleX(0.9749);transform-origin:0 0;">Rack B</div>
<div class="t" style="left:172.40px;top:593.03px;font-size:10.5px;color:#34c75c;transform:scaleX(0.9633);transform-origin:0 0;">[STABLE - 95%]</div>
<div class="t" style="left:172.40px;top:658.73px;font-size:12px;color:#f1f2f3;transform:scaleX(0.9586);transform-origin:0 0;">Rack C</div>
<div class="t" style="left:172.40px;top:675.03px;font-size:10.5px;color:#d9a93c;transform:scaleX(0.9602);transform-origin:0 0;">[WARNING - 82%]</div>
<div class="hl" style="left:124.5px;top:232.5px;width:207px;background:#2a2d30"></div>
<div class="hl" style="left:124.5px;top:300.7px;width:207px;background:#2a2d30"></div>
<div class="hl" style="left:124.5px;top:467px;width:207px;background:#2a2d30"></div>
<div class="hl" style="left:124.5px;top:548.3px;width:207px;background:#2a2d30"></div>
<div class="hl" style="left:124.5px;top:630px;width:207px;background:#2a2d30"></div>
<div class="abs" style="left:124.5px;top:364.8px;width:207px;height:24px;border-radius:4.5px;background:#282b2e"></div>
<div class="abs" style="left:133.7px;top:373.8px;width:98.5px;height:4.6px;border-radius:3px;background:#33d967"></div>
<svg width="1024" height="1024"><path d="M313.6,378.4 L317.3,374.7 L321,378.4" fill="none" stroke="#909396" stroke-width="1.35" stroke-linecap="round" stroke-linejoin="round"/></svg>
<svg width="0" height="0"><defs>
<linearGradient id="gA" gradientUnits="userSpaceOnUse" x1="0" y1="203" x2="0" y2="318"><stop offset="0" stop-color="#30c25d" stop-opacity=".64"/><stop offset=".5" stop-color="#2aa850" stop-opacity=".30"/><stop offset=".85" stop-color="#2aa850" stop-opacity=".07"/><stop offset="1" stop-color="#2aa850" stop-opacity=".01"/></linearGradient>
<linearGradient id="gB" x1="0" y1="0" x2="0" y2="1"><stop offset="0" stop-color="#2fbf5b" stop-opacity=".45"/><stop offset="1" stop-color="#2aa850" stop-opacity="0"/></linearGradient>
<linearGradient id="gN" gradientUnits="userSpaceOnUse" x1="0" y1="200" x2="0" y2="318"><stop offset="0" stop-color="#2fbf5b" stop-opacity=".75"/><stop offset=".5" stop-color="#2aa850" stop-opacity=".30"/><stop offset="1" stop-color="#2aa850" stop-opacity=".03"/></linearGradient>
<linearGradient id="gS" gradientUnits="userSpaceOnUse" x1="0" y1="418" x2="0" y2="472"><stop offset="0" stop-color="#2fc45e" stop-opacity=".80"/><stop offset=".5" stop-color="#2aa850" stop-opacity=".36"/><stop offset=".88" stop-color="#2aa850" stop-opacity=".06"/><stop offset="1" stop-color="#2aa850" stop-opacity="0"/></linearGradient>
<linearGradient id="gT" gradientUnits="userSpaceOnUse" x1="0" y1="423" x2="0" y2="473"><stop offset="0" stop-color="#2fc45e" stop-opacity=".95"/><stop offset=".45" stop-color="#2aa850" stop-opacity=".55"/><stop offset=".85" stop-color="#2aa850" stop-opacity=".10"/><stop offset="1" stop-color="#2aa850" stop-opacity="0"/></linearGradient>
<linearGradient id="gD" gradientUnits="userSpaceOnUse" x1="0" y1="845" x2="0" y2="941"><stop offset="0" stop-color="#2fbf5b" stop-opacity=".68"/><stop offset=".5" stop-color="#2aa850" stop-opacity=".34"/><stop offset=".85" stop-color="#2aa850" stop-opacity=".09"/><stop offset="1" stop-color="#2aa850" stop-opacity=".01"/></linearGradient>
</defs></svg>
<svg width="1024" height="1024"><g stroke="#2f3235" stroke-width="1" fill="none"><path d="M393,177.4 H651.3"/><path d="M393,205.5 H651.3"/><path d="M393,233.5 H651.3"/><path d="M393,261.6 H651.3"/><path d="M393,289.7 H651.3"/><path d="M393,317.7 H651.3"/><path d="M393,177.4 V317.7"/><path d="M455.8,177.4 V317.7"/><path d="M520,177.4 V317.7"/><path d="M584.3,177.4 V317.7"/><path d="M651.3,177.4 V317.7"/></g><path d="M393.2,309.4 L413.2,286.7 L435.4,273.9 L444.8,277.0 L452.5,269.3 L461.9,264.5 L478.2,271.8 L490.1,276.6 L511.5,239.7 L522.7,238.8 L536.4,248.2 L544.0,247.4 L557.7,255.6 L566.3,247.4 L571.4,246.2 L582.8,236.8 L592.7,246.2 L602.1,248.4 L613.2,257.3 L624.3,252.1 L634.6,249.9 L651.2,243.6 L651.2,317.7 L393.2,317.7 Z" fill="url(#gB)" opacity=".45"/><path d="M393.2,309.4 L415.4,258.7 L444.3,259.5 L463.6,227.4 L487.6,257.3 L511.5,244.5 L521.0,243.9 L546.1,202.9 L570.0,246.2 L584.2,251.3 L616.1,215.0 L639.2,236.4 L651.2,230.4 L651.2,317.7 L393.2,317.7 Z" fill="url(#gA)"/><path d="M393.2,309.4 L413.2,286.7 L435.4,273.9 L444.8,277.0 L452.5,269.3 L461.9,264.5 L478.2,271.8 L490.1,276.6 L511.5,239.7 L522.7,238.8 L536.4,248.2 L544.0,247.4 L557.7,255.6 L566.3,247.4 L571.4,246.2 L582.8,236.8 L592.7,246.2 L602.1,248.4 L613.2,257.3 L624.3,252.1 L634.6,249.9 L651.2,243.6" fill="none" stroke="#31bd5e" stroke-width="1.3" stroke-linejoin="round"/><path d="M393.2,309.4 L415.4,258.7 L444.3,259.5 L463.6,227.4 L487.6,257.3 L511.5,244.5 L521.0,243.9 L546.1,202.9 L570.0,246.2 L584.2,251.3 L616.1,215.0 L639.2,236.4 L651.2,230.4" fill="none" stroke="#43e076" stroke-width="1.7" stroke-linejoin="round" style="filter:drop-shadow(0 0 1.5px rgba(60,230,120,.5))"/></svg>
<div class="t" style="left:365.00px;top:172.18px;font-size:9.7px;color:#a4a7ab;transform:scaleX(0.8828);transform-origin:0 0;-webkit-text-stroke:0.08px currentColor;">100%</div>
<div class="t" style="left:369.00px;top:200.28px;font-size:9.7px;color:#a4a7ab;transform:scaleX(0.9215);transform-origin:0 0;-webkit-text-stroke:0.08px currentColor;">80%</div>
<div class="t" style="left:369.00px;top:228.28px;font-size:9.7px;color:#a4a7ab;transform:scaleX(0.9215);transform-origin:0 0;-webkit-text-stroke:0.08px currentColor;">60%</div>
<div class="t" style="left:369.00px;top:256.38px;font-size:9.7px;color:#a4a7ab;transform:scaleX(0.9215);transform-origin:0 0;-webkit-text-stroke:0.08px currentColor;">40%</div>
<div class="t" style="left:369.00px;top:284.48px;font-size:9.7px;color:#a4a7ab;transform:scaleX(0.9215);transform-origin:0 0;-webkit-text-stroke:0.08px currentColor;">20%</div>
<div class="t" style="left:373.70px;top:312.48px;font-size:9.7px;color:#a4a7ab;transform:scaleX(0.9417);transform-origin:0 0;-webkit-text-stroke:0.08px currentColor;">0%</div>
<div class="t" style="left:392.40px;top:325.23px;font-size:9.7px;color:#a4a7ab;transform:scaleX(0.9213);transform-origin:0 0;-webkit-text-stroke:0.08px currentColor;">60 mins</div>
<div class="t" style="left:451.70px;top:325.23px;font-size:9.7px;color:#a4a7ab;transform:scaleX(0.7969);transform-origin:0 0;-webkit-text-stroke:0.08px currentColor;">15</div>
<div class="t" style="left:514.70px;top:325.23px;font-size:9.7px;color:#a4a7ab;transform:scaleX(0.9823);transform-origin:0 0;-webkit-text-stroke:0.08px currentColor;">40</div>
<div class="t" style="left:578.60px;top:325.23px;font-size:9.7px;color:#a4a7ab;transform:scaleX(0.9823);transform-origin:0 0;-webkit-text-stroke:0.08px currentColor;">45</div>
<div class="t" style="left:619.70px;top:325.23px;font-size:9.7px;color:#a4a7ab;transform:scaleX(0.9272);transform-origin:0 0;-webkit-text-stroke:0.08px currentColor;">60 mins</div>
<div class="t" style="left:451.70px;top:212.16px;font-size:11px;color:#f1f2f3;transform:scaleX(1.0078);transform-origin:0 0;">64%</div>
<div class="t" style="left:535.20px;top:188.36px;font-size:11px;color:#f1f2f3;transform:scaleX(0.9534);transform-origin:0 0;">81%</div>
<div class="t" style="left:605.30px;top:200.36px;font-size:11px;color:#f1f2f3;transform:scaleX(0.9670);transform-origin:0 0;">73%</div>
<svg width="1024" height="1024"><g stroke="#2f3235" stroke-width="1" fill="none"><path d="M721.5,177.4 H961.6"/><path d="M721.5,205.5 H961.6"/><path d="M721.5,233.5 H961.6"/><path d="M721.5,261.6 H961.6"/><path d="M721.5,289.7 H961.6"/><path d="M721.5,317.7 H961.6"/><path d="M721.5,177.4 V317.7"/><path d="M781.2,177.4 V317.7"/><path d="M840.3,177.4 V317.7"/><path d="M899.9,177.4 V317.7"/><path d="M961.6,177.4 V317.7"/></g><path d="M723.6,274.1 C724.0,275.0 724.4,275.6 724.8,277.0 C725.5,279.5 726.3,292.4 727.0,292.4 C727.5,292.4 727.9,292.4 728.4,292.4 C729.3,292.4 730.3,283.8 731.3,281.2 C732.4,278.2 733.6,274.4 734.7,274.4 C736.1,274.4 737.5,282.6 739.0,282.6 C740.4,282.6 741.8,271.8 743.2,271.8 C745.0,271.8 746.7,279.5 748.4,279.5 C750.0,279.5 751.6,266.4 753.2,266.4 C754.0,266.4 754.9,271.8 755.7,271.8 C757.3,271.8 758.8,257.2 760.3,256.5 C761.4,256.0 762.4,255.6 763.4,255.6 C764.7,255.6 765.9,264.9 767.2,269.3 C768.2,272.8 769.2,279.5 770.3,279.5 C771.5,279.5 772.8,268.4 774.0,268.4 C774.6,268.4 775.2,271.8 775.7,274.4 C776.8,279.1 777.8,296.6 778.8,296.6 C780.1,296.6 781.3,287.7 782.6,287.7 C784.6,287.7 786.6,288.9 788.5,288.9 C789.9,288.9 791.2,277.8 792.5,277.8 C793.4,277.8 794.4,281.2 795.4,281.2 C796.2,281.2 797.1,272.7 797.9,272.7 C798.8,272.7 799.7,279.0 800.5,281.2 C802.2,285.7 803.9,291.8 805.6,291.8 C807.4,291.8 809.1,280.0 810.8,278.7 C811.9,277.8 813.0,277.9 814.2,277.0 C815.5,275.9 816.8,267.1 818.1,267.1 C819.5,267.1 820.9,281.2 822.2,281.2 C823.1,281.2 824.0,278.7 825.0,278.7 C825.6,278.7 826.3,282.9 827.0,282.9 C828.4,282.9 829.9,282.6 831.3,282.6 C833.0,282.6 834.7,292.9 836.4,292.9 C837.8,292.9 839.1,286.8 840.5,285.5 C841.4,284.7 842.2,283.8 843.1,283.8 C843.8,283.8 844.6,286.4 845.3,286.4 C846.4,286.4 847.6,277.6 848.7,276.1 C849.5,275.1 850.3,274.1 851.1,274.1 C852.4,274.1 853.7,280.4 855.0,280.4 C856.4,280.4 857.7,254.2 859.0,254.2 C859.8,254.2 860.6,254.8 861.4,255.6 C862.8,257.0 864.3,275.3 865.8,275.3 C867.4,275.3 868.9,266.2 870.4,266.2 C871.7,266.2 873.0,280.9 874.4,280.9 C876.5,280.9 878.6,245.0 880.7,245.0 C881.3,245.0 881.8,246.0 882.4,247.1 C883.8,249.7 885.2,270.6 886.7,274.4 C887.7,277.2 888.7,279.9 889.7,279.9 C891.1,279.9 892.5,272.4 893.8,272.4 C894.6,272.4 895.3,273.0 896.1,273.0 C897.5,273.0 898.9,268.1 900.3,264.1 C901.5,261.0 902.6,257.1 903.8,250.5 C904.9,243.9 906.0,222.7 907.2,214.6 C908.2,207.3 909.2,197.8 910.3,197.8 C910.9,197.8 911.6,199.8 912.3,201.8 C913.7,205.9 915.2,231.9 916.6,238.5 C917.4,242.5 918.3,243.6 919.1,247.1 C920.9,254.0 922.6,275.8 924.3,275.8 C925.4,275.8 926.6,267.9 927.7,262.4 C928.7,257.5 929.7,243.6 930.8,243.6 C932.0,243.6 933.3,262.2 934.5,265.9 C935.6,268.8 936.6,271.8 937.6,271.8 C938.6,271.8 939.5,265.5 940.5,265.5 C941.7,265.5 942.8,281.6 943.9,281.6 C945.2,281.6 946.6,267.1 947.9,267.1 C948.7,267.1 949.5,273.0 950.3,273.0 C951.3,273.0 952.3,269.7 953.3,268.9 C954.2,268.3 955.0,268.4 955.9,267.6 C956.9,266.6 957.8,249.3 958.8,247.1 C959.3,246.0 959.7,245.7 960.2,245.0 L960.2,317.7 L723.6,317.7 Z" fill="url(#gN)"/><path d="M723.6,274.1 C724.0,275.0 724.4,275.6 724.8,277.0 C725.5,279.5 726.3,292.4 727.0,292.4 C727.5,292.4 727.9,292.4 728.4,292.4 C729.3,292.4 730.3,283.8 731.3,281.2 C732.4,278.2 733.6,274.4 734.7,274.4 C736.1,274.4 737.5,282.6 739.0,282.6 C740.4,282.6 741.8,271.8 743.2,271.8 C745.0,271.8 746.7,279.5 748.4,279.5 C750.0,279.5 751.6,266.4 753.2,266.4 C754.0,266.4 754.9,271.8 755.7,271.8 C757.3,271.8 758.8,257.2 760.3,256.5 C761.4,256.0 762.4,255.6 763.4,255.6 C764.7,255.6 765.9,264.9 767.2,269.3 C768.2,272.8 769.2,279.5 770.3,279.5 C771.5,279.5 772.8,268.4 774.0,268.4 C774.6,268.4 775.2,271.8 775.7,274.4 C776.8,279.1 777.8,296.6 778.8,296.6 C780.1,296.6 781.3,287.7 782.6,287.7 C784.6,287.7 786.6,288.9 788.5,288.9 C789.9,288.9 791.2,277.8 792.5,277.8 C793.4,277.8 794.4,281.2 795.4,281.2 C796.2,281.2 797.1,272.7 797.9,272.7 C798.8,272.7 799.7,279.0 800.5,281.2 C802.2,285.7 803.9,291.8 805.6,291.8 C807.4,291.8 809.1,280.0 810.8,278.7 C811.9,277.8 813.0,277.9 814.2,277.0 C815.5,275.9 816.8,267.1 818.1,267.1 C819.5,267.1 820.9,281.2 822.2,281.2 C823.1,281.2 824.0,278.7 825.0,278.7 C825.6,278.7 826.3,282.9 827.0,282.9 C828.4,282.9 829.9,282.6 831.3,282.6 C833.0,282.6 834.7,292.9 836.4,292.9 C837.8,292.9 839.1,286.8 840.5,285.5 C841.4,284.7 842.2,283.8 843.1,283.8 C843.8,283.8 844.6,286.4 845.3,286.4 C846.4,286.4 847.6,277.6 848.7,276.1 C849.5,275.1 850.3,274.1 851.1,274.1 C852.4,274.1 853.7,280.4 855.0,280.4 C856.4,280.4 857.7,254.2 859.0,254.2 C859.8,254.2 860.6,254.8 861.4,255.6 C862.8,257.0 864.3,275.3 865.8,275.3 C867.4,275.3 868.9,266.2 870.4,266.2 C871.7,266.2 873.0,280.9 874.4,280.9 C876.5,280.9 878.6,245.0 880.7,245.0 C881.3,245.0 881.8,246.0 882.4,247.1 C883.8,249.7 885.2,270.6 886.7,274.4 C887.7,277.2 888.7,279.9 889.7,279.9 C891.1,279.9 892.5,272.4 893.8,272.4 C894.6,272.4 895.3,273.0 896.1,273.0 C897.5,273.0 898.9,268.1 900.3,264.1 C901.5,261.0 902.6,257.1 903.8,250.5 C904.9,243.9 906.0,222.7 907.2,214.6 C908.2,207.3 909.2,197.8 910.3,197.8 C910.9,197.8 911.6,199.8 912.3,201.8 C913.7,205.9 915.2,231.9 916.6,238.5 C917.4,242.5 918.3,243.6 919.1,247.1 C920.9,254.0 922.6,275.8 924.3,275.8 C925.4,275.8 926.6,267.9 927.7,262.4 C928.7,257.5 929.7,243.6 930.8,243.6 C932.0,243.6 933.3,262.2 934.5,265.9 C935.6,268.8 936.6,271.8 937.6,271.8 C938.6,271.8 939.5,265.5 940.5,265.5 C941.7,265.5 942.8,281.6 943.9,281.6 C945.2,281.6 946.6,267.1 947.9,267.1 C948.7,267.1 949.5,273.0 950.3,273.0 C951.3,273.0 952.3,269.7 953.3,268.9 C954.2,268.3 955.0,268.4 955.9,267.6 C956.9,266.6 957.8,249.3 958.8,247.1 C959.3,246.0 959.7,245.7 960.2,245.0" fill="none" stroke="#43e076" stroke-width="1.7" stroke-linejoin="round" stroke-linecap="round" style="filter:drop-shadow(0 0 1.5px rgba(60,230,120,.5))"/></svg>
<div class="t" style="left:689.40px;top:172.18px;font-size:9.7px;color:#a4a7ab;transform:scaleX(0.9361);transform-origin:0 0;-webkit-text-stroke:0.08px currentColor;">45ms</div>
<div class="t" style="left:689.40px;top:200.28px;font-size:9.7px;color:#a4a7ab;transform:scaleX(0.9361);transform-origin:0 0;-webkit-text-stroke:0.08px currentColor;">40ms</div>
<div class="t" style="left:689.40px;top:228.28px;font-size:9.7px;color:#a4a7ab;transform:scaleX(0.9361);transform-origin:0 0;-webkit-text-stroke:0.08px currentColor;">36ms</div>
<div class="t" style="left:689.40px;top:256.38px;font-size:9.7px;color:#a4a7ab;transform:scaleX(0.9361);transform-origin:0 0;-webkit-text-stroke:0.08px currentColor;">24ms</div>
<div class="t" style="left:690.20px;top:284.48px;font-size:9.7px;color:#a4a7ab;transform:scaleX(0.9023);transform-origin:0 0;-webkit-text-stroke:0.08px currentColor;">18ms</div>
<div class="t" style="left:695.00px;top:312.48px;font-size:9.7px;color:#a4a7ab;transform:scaleX(0.9055);transform-origin:0 0;-webkit-text-stroke:0.08px currentColor;">0ms</div>
<div class="t" style="left:719.90px;top:325.23px;font-size:9.7px;color:#a4a7ab;transform:scaleX(0.9213);transform-origin:0 0;-webkit-text-stroke:0.08px currentColor;">60 mins</div>
<div class="t" style="left:776.90px;top:325.23px;font-size:9.7px;color:#a4a7ab;transform:scaleX(0.7969);transform-origin:0 0;-webkit-text-stroke:0.08px currentColor;">15</div>
<div class="t" style="left:835.20px;top:325.23px;font-size:9.7px;color:#a4a7ab;transform:scaleX(0.9823);transform-origin:0 0;-webkit-text-stroke:0.08px currentColor;">30</div>
<div class="t" style="left:894.50px;top:325.23px;font-size:9.7px;color:#a4a7ab;transform:scaleX(0.9823);transform-origin:0 0;-webkit-text-stroke:0.08px currentColor;">45</div>
<div class="t" style="left:929.70px;top:325.23px;font-size:9.7px;color:#a4a7ab;transform:scaleX(0.9360);transform-origin:0 0;-webkit-text-stroke:0.08px currentColor;">60 mins</div>
<div class="t" style="left:747.70px;top:239.96px;font-size:11px;color:#f1f2f3;transform:scaleX(1.0113);transform-origin:0 0;">24ms</div>
<div class="t" style="left:896.60px;top:182.36px;font-size:11px;color:#f1f2f3;transform:scaleX(1.0188);transform-origin:0 0;">45ms</div>
<div class="t" style="left:823.50px;top:297.86px;font-size:11px;color:#f1f2f3;transform:scaleX(0.9704);transform-origin:0 0;">19ms</div>
<div class="t" style="left:366.50px;top:392.12px;font-size:23.6px;color:#f4f5f6;transform:scaleX(0.9543);transform-origin:0 0;-webkit-text-stroke:0.55px #f4f5f6;">68%</div>
<div class="t" style="left:527.20px;top:392.12px;font-size:23.6px;color:#f4f5f6;transform:scaleX(0.9480);transform-origin:0 0;-webkit-text-stroke:0.55px #f4f5f6;">54%</div>
<div class="t" style="left:577.00px;top:397.51px;font-size:16px;color:#7c7f83;transform:scaleX(0.9349);transform-origin:0 0;">/ 128GB</div>
<div class="t" style="left:850.30px;top:392.12px;font-size:23.6px;color:#f4f5f6;transform:scaleX(0.8993);transform-origin:0 0;-webkit-text-stroke:0.55px #f4f5f6;">61%</div>
<svg width="1024" height="1024"><path d="M366.7,457.6 C367.7,455.0 368.7,451.5 369.6,449.8 C371.4,446.7 373.1,443.2 374.8,443.2 C376.0,443.2 377.2,445.6 378.4,446.9 C379.7,448.2 380.9,451.0 382.1,451.0 C383.6,451.0 385.0,450.1 386.5,449.1 C388.4,447.8 390.4,438.8 392.4,438.8 C394.1,438.8 395.8,441.8 397.5,443.9 C398.9,445.8 400.4,450.3 401.9,451.0 C403.1,451.5 404.3,452.0 405.5,452.0 C407.2,452.0 409.0,446.0 410.7,443.9 C412.4,441.9 414.1,441.1 415.8,438.8 C417.6,436.4 419.4,427.4 421.2,427.4 C422.8,427.4 424.4,435.9 426.0,435.9 C427.8,435.9 429.5,435.9 431.2,435.9 C432.4,435.9 433.6,437.6 434.8,438.8 C436.1,440.0 437.3,443.2 438.5,443.2 C440.0,443.2 441.4,439.4 442.9,438.1 C444.1,437.0 445.3,435.4 446.5,435.4 C448.0,435.4 449.5,436.6 450.9,436.6 C452.2,436.6 453.4,430.0 454.6,427.1 C456.1,423.6 457.5,417.3 459.0,417.3 C460.2,417.3 461.4,419.8 462.7,422.0 C463.6,423.7 464.6,428.4 465.6,430.0 C467.1,432.5 468.5,433.4 470.0,435.2 C471.1,436.5 472.2,439.3 473.4,439.3 C474.7,439.3 476.0,434.8 477.3,433.7 C478.3,432.9 479.3,431.9 480.2,431.9 C482.2,431.9 484.1,434.7 486.1,434.7 C488.1,434.7 490.0,431.1 492.0,429.3 L492.0,472.0 L366.7,472.0 Z" fill="url(#gS)"/><path d="M366.7,457.6 C367.7,455.0 368.7,451.5 369.6,449.8 C371.4,446.7 373.1,443.2 374.8,443.2 C376.0,443.2 377.2,445.6 378.4,446.9 C379.7,448.2 380.9,451.0 382.1,451.0 C383.6,451.0 385.0,450.1 386.5,449.1 C388.4,447.8 390.4,438.8 392.4,438.8 C394.1,438.8 395.8,441.8 397.5,443.9 C398.9,445.8 400.4,450.3 401.9,451.0 C403.1,451.5 404.3,452.0 405.5,452.0 C407.2,452.0 409.0,446.0 410.7,443.9 C412.4,441.9 414.1,441.1 415.8,438.8 C417.6,436.4 419.4,427.4 421.2,427.4 C422.8,427.4 424.4,435.9 426.0,435.9 C427.8,435.9 429.5,435.9 431.2,435.9 C432.4,435.9 433.6,437.6 434.8,438.8 C436.1,440.0 437.3,443.2 438.5,443.2 C440.0,443.2 441.4,439.4 442.9,438.1 C444.1,437.0 445.3,435.4 446.5,435.4 C448.0,435.4 449.5,436.6 450.9,436.6 C452.2,436.6 453.4,430.0 454.6,427.1 C456.1,423.6 457.5,417.3 459.0,417.3 C460.2,417.3 461.4,419.8 462.7,422.0 C463.6,423.7 464.6,428.4 465.6,430.0 C467.1,432.5 468.5,433.4 470.0,435.2 C471.1,436.5 472.2,439.3 473.4,439.3 C474.7,439.3 476.0,434.8 477.3,433.7 C478.3,432.9 479.3,431.9 480.2,431.9 C482.2,431.9 484.1,434.7 486.1,434.7 C488.1,434.7 490.0,431.1 492.0,429.3" fill="none" stroke="#43e076" stroke-width="1.6" stroke-linejoin="round" stroke-linecap="round" style="filter:drop-shadow(0 0 1.5px rgba(60,230,120,.5))"/><path d="M527.5,462.7 C529.2,461.3 530.9,458.6 532.6,458.6 C534.3,458.6 536.0,459.8 537.7,459.8 C539.9,459.8 542.1,450.5 544.3,450.5 C546.0,450.5 547.7,450.5 549.4,450.5 C551.6,450.5 553.8,446.9 556.0,446.9 C558.5,446.9 560.9,451.6 563.3,451.6 C565.3,451.6 567.2,448.0 569.2,448.0 C571.1,448.0 573.1,450.5 575.1,450.5 C577.3,450.5 579.4,441.7 581.6,441.7 C583.4,441.7 585.1,443.9 586.8,443.9 C587.7,443.9 588.5,439.4 589.4,436.9 C590.3,434.3 591.3,429.6 592.2,428.4 C592.7,427.8 593.2,427.1 593.7,427.1 C594.1,427.1 594.6,428.1 595.1,429.0 C595.9,430.4 596.6,435.0 597.3,436.9 C598.0,438.6 598.6,440.9 599.2,441.0 C600.9,441.2 602.6,441.1 604.4,441.3 C605.8,441.5 607.3,442.8 608.7,442.8 C610.0,442.8 611.2,442.8 612.4,442.8 C614.4,442.8 616.3,445.4 618.3,445.4 C620.5,445.4 622.7,439.3 624.9,438.8 C625.8,438.6 626.8,438.4 627.8,438.4 C629.3,438.4 630.7,441.5 632.2,441.5 C633.6,441.5 635.1,435.9 636.6,435.9 C638.0,435.9 639.5,435.9 641.0,435.9 C642.9,435.9 644.9,441.5 646.8,441.5 C649.0,441.5 651.2,437.1 653.4,434.9 L653.4,472.0 L527.5,472.0 Z" fill="url(#gS)"/><path d="M527.5,462.7 C529.2,461.3 530.9,458.6 532.6,458.6 C534.3,458.6 536.0,459.8 537.7,459.8 C539.9,459.8 542.1,450.5 544.3,450.5 C546.0,450.5 547.7,450.5 549.4,450.5 C551.6,450.5 553.8,446.9 556.0,446.9 C558.5,446.9 560.9,451.6 563.3,451.6 C565.3,451.6 567.2,448.0 569.2,448.0 C571.1,448.0 573.1,450.5 575.1,450.5 C577.3,450.5 579.4,441.7 581.6,441.7 C583.4,441.7 585.1,443.9 586.8,443.9 C587.7,443.9 588.5,439.4 589.4,436.9 C590.3,434.3 591.3,429.6 592.2,428.4 C592.7,427.8 593.2,427.1 593.7,427.1 C594.1,427.1 594.6,428.1 595.1,429.0 C595.9,430.4 596.6,435.0 597.3,436.9 C598.0,438.6 598.6,440.9 599.2,441.0 C600.9,441.2 602.6,441.1 604.4,441.3 C605.8,441.5 607.3,442.8 608.7,442.8 C610.0,442.8 611.2,442.8 612.4,442.8 C614.4,442.8 616.3,445.4 618.3,445.4 C620.5,445.4 622.7,439.3 624.9,438.8 C625.8,438.6 626.8,438.4 627.8,438.4 C629.3,438.4 630.7,441.5 632.2,441.5 C633.6,441.5 635.1,435.9 636.6,435.9 C638.0,435.9 639.5,435.9 641.0,435.9 C642.9,435.9 644.9,441.5 646.8,441.5 C649.0,441.5 651.2,437.1 653.4,434.9" fill="none" stroke="#43e076" stroke-width="1.6" stroke-linejoin="round" stroke-linecap="round" style="filter:drop-shadow(0 0 1.5px rgba(60,230,120,.5))"/><path d="M931.2,423 H962.2 a3,3 0 0 1 3,3 V469.7 a3,3 0 0 1 -3,3 H931.2Z" fill="#37393c"/><path d="M851.0,440.3 C852.4,439.9 853.7,439.7 855.1,439.0 C856.2,438.4 857.4,435.8 858.5,434.9 C860.1,433.5 861.7,433.1 863.3,431.7 C864.5,430.7 865.8,427.3 867.0,427.3 C867.8,427.3 868.6,428.5 869.4,429.4 C870.4,430.4 871.3,433.5 872.2,433.5 C873.8,433.5 875.4,431.2 877.0,431.2 C878.3,431.2 879.7,431.6 881.1,432.1 C882.7,432.7 884.3,435.5 885.9,436.2 C887.2,436.9 888.6,437.6 890.0,437.6 C891.3,437.6 892.7,437.0 894.1,436.6 C895.7,436.3 897.2,436.1 898.8,435.5 C899.9,435.2 900.9,433.9 902.0,433.9 C903.2,433.9 904.4,435.9 905.7,436.6 C906.6,437.2 907.5,438.0 908.4,438.0 C909.6,438.0 910.7,434.5 911.8,432.8 C913.0,431.2 914.1,428.0 915.2,428.0 C916.8,428.0 918.3,429.4 919.8,429.4 C921.0,429.4 922.2,425.6 923.5,424.6 C924.4,423.9 925.3,423.0 926.2,423.0 C927.9,423.0 929.6,423.0 931.2,423.0 L931.2,472.6 L851.0,472.6 Z" fill="url(#gT)"/><path d="M851.0,440.3 C852.4,439.9 853.7,439.7 855.1,439.0 C856.2,438.4 857.4,435.8 858.5,434.9 C860.1,433.5 861.7,433.1 863.3,431.7 C864.5,430.7 865.8,427.3 867.0,427.3 C867.8,427.3 868.6,428.5 869.4,429.4 C870.4,430.4 871.3,433.5 872.2,433.5 C873.8,433.5 875.4,431.2 877.0,431.2 C878.3,431.2 879.7,431.6 881.1,432.1 C882.7,432.7 884.3,435.5 885.9,436.2 C887.2,436.9 888.6,437.6 890.0,437.6 C891.3,437.6 892.7,437.0 894.1,436.6 C895.7,436.3 897.2,436.1 898.8,435.5 C899.9,435.2 900.9,433.9 902.0,433.9 C903.2,433.9 904.4,435.9 905.7,436.6 C906.6,437.2 907.5,438.0 908.4,438.0 C909.6,438.0 910.7,434.5 911.8,432.8 C913.0,431.2 914.1,428.0 915.2,428.0 C916.8,428.0 918.3,429.4 919.8,429.4 C921.0,429.4 922.2,425.6 923.5,424.6 C924.4,423.9 925.3,423.0 926.2,423.0 C927.9,423.0 929.6,423.0 931.2,423.0" fill="none" stroke="#3fd870" stroke-width="1.5" stroke-linejoin="round" stroke-linecap="round" style="filter:drop-shadow(0 0 1.5px rgba(60,230,120,.5))"/></svg>
<div class="t" style="left:689.40px;top:391.82px;font-size:23.6px;color:#f4f5f6;transform:scaleX(0.8566);transform-origin:0 0;-webkit-text-stroke:0.55px #f4f5f6;">7.2</div>
<div class="t" style="left:724.60px;top:394.59px;font-size:20px;color:#f4f5f6;transform:scaleX(0.9435);transform-origin:0 0;-webkit-text-stroke:0.55px #f4f5f6;">Gbps</div>
<div class="t" style="left:688.70px;top:417.15px;font-size:13.4px;color:#7c7f83;transform:scaleX(0.9945);transform-origin:0 0;">/ 4.1 Gbps</div>
<div class="abs" style="left:688.5px;top:448px;width:127.7px;height:5px;border-radius:3px;background:#37393c"></div>
<div class="abs" style="left:753.7px;top:448px;width:19.5px;height:5px;border-radius:0 2px 2px 0;background:#e3584d"></div>
<div class="abs" style="left:688.5px;top:448px;width:63.2px;height:5px;border-radius:3px;background:#33d967"></div>
<div class="t" style="left:689.40px;top:459.46px;font-size:11px;color:#f1f2f3;transform:scaleX(0.9926);transform-origin:0 0;">7.2 Gbps</div>
<div class="t" style="left:753.10px;top:459.46px;font-size:11px;color:#8c8f93;">4.1 Gbps</div>
<div class="t" style="left:366.40px;top:534.42px;font-size:8.3px;color:#8c8f93;transform:scaleX(0.9797);transform-origin:0 0;">NAME</div>
<div class="t" style="left:493.50px;top:534.42px;font-size:8.3px;color:#8c8f93;transform:scaleX(0.9899);transform-origin:0 0;">STATUS</div>
<div class="t" style="left:569.40px;top:534.42px;font-size:8.3px;color:#8c8f93;transform:scaleX(0.8300);transform-origin:0 0;">UMCLINE</div>
<div class="hl" style="left:366.5px;top:548px;width:288px;background:#2a2d30"></div>
<div class="t" style="left:383.10px;top:559.28px;font-size:12.4px;color:#f1f2f3;transform:scaleX(0.9578);transform-origin:0 0;">SVR-01</div>
<div class="t" style="left:493.50px;top:559.18px;font-size:12.4px;color:#37cf64;transform:scaleX(0.9207);transform-origin:0 0;">ONLINE</div>
<div class="hl" style="left:366.5px;top:582px;width:288px;background:#2a2d30"></div>
<div class="t" style="left:383.10px;top:593.28px;font-size:12.4px;color:#f1f2f3;transform:scaleX(1.0108);transform-origin:0 0;">SVR-02</div>
<div class="t" style="left:493.50px;top:593.18px;font-size:12.4px;color:#37cf64;transform:scaleX(0.9207);transform-origin:0 0;">ONLINE</div>
<div class="hl" style="left:366.5px;top:616px;width:288px;background:#2a2d30"></div>
<div class="t" style="left:383.10px;top:627.28px;font-size:12.4px;color:#f1f2f3;transform:scaleX(1.0108);transform-origin:0 0;">SVR-03</div>
<div class="t" style="left:493.50px;top:627.18px;font-size:12.4px;color:#37cf64;transform:scaleX(0.9207);transform-origin:0 0;">ONLINE</div>
<div class="hl" style="left:366.5px;top:650px;width:288px;background:#2a2d30"></div>
<div class="t" style="left:383.10px;top:661.28px;font-size:12.4px;color:#f1f2f3;transform:scaleX(1.0108);transform-origin:0 0;">SVR-04</div>
<div class="t" style="left:493.50px;top:661.18px;font-size:12.4px;color:#37cf64;transform:scaleX(0.9207);transform-origin:0 0;">ONLINE</div>
<div class="hl" style="left:366.5px;top:684px;width:288px;background:#2a2d30"></div>
<div class="t" style="left:383.10px;top:695.28px;font-size:12.4px;color:#f1f2f3;transform:scaleX(1.0108);transform-origin:0 0;">SVR-05</div>
<div class="t" style="left:493.50px;top:695.18px;font-size:12.4px;color:#37cf64;transform:scaleX(0.9207);transform-origin:0 0;">ONLINE</div>
<div class="hl" style="left:366.5px;top:718px;width:288px;background:#2a2d30"></div>
<div class="t" style="left:383.10px;top:729.28px;font-size:12.4px;color:#f1f2f3;transform:scaleX(1.0108);transform-origin:0 0;">SVR-06</div>
<div class="t" style="left:493.50px;top:729.18px;font-size:12.4px;color:#37cf64;transform:scaleX(0.9207);transform-origin:0 0;">ONLINE</div>
<svg width="1024" height="1024"><circle cx="371.7" cy="565.2" r="4.4" fill="#33d967" style="filter:drop-shadow(0 0 2px rgba(50,220,100,.5))"/><rect x="569.70" y="557.8" width="4" height="14.9" rx="0.6" fill="#3ddc6c" style="filter:drop-shadow(0 0 1.1px rgba(30,170,75,.75))"/><rect x="575.46" y="557.8" width="4" height="14.9" rx="0.6" fill="#3ddc6c" style="filter:drop-shadow(0 0 1.1px rgba(30,170,75,.75))"/><rect x="581.22" y="557.8" width="4" height="14.9" rx="0.6" fill="#3ddc6c" style="filter:drop-shadow(0 0 1.1px rgba(30,170,75,.75))"/><rect x="586.98" y="557.8" width="4" height="14.9" rx="0.6" fill="#3ddc6c" style="filter:drop-shadow(0 0 1.1px rgba(30,170,75,.75))"/><rect x="592.74" y="557.8" width="4" height="14.9" rx="0.6" fill="#3ddc6c" style="filter:drop-shadow(0 0 1.1px rgba(30,170,75,.75))"/><rect x="598.50" y="557.8" width="4" height="14.9" rx="0.6" fill="#3ddc6c" style="filter:drop-shadow(0 0 1.1px rgba(30,170,75,.75))"/><rect x="604.26" y="557.8" width="4" height="14.9" rx="0.6" fill="#3ddc6c" style="filter:drop-shadow(0 0 1.1px rgba(30,170,75,.75))"/><rect x="610.02" y="557.8" width="4" height="14.9" rx="0.6" fill="#3ddc6c" style="filter:drop-shadow(0 0 1.1px rgba(30,170,75,.75))"/><rect x="615.78" y="557.8" width="4" height="14.9" rx="0.6" fill="#3ddc6c" style="filter:drop-shadow(0 0 1.1px rgba(30,170,75,.75))"/><rect x="621.54" y="557.8" width="4" height="14.9" rx="0.6" fill="#3ddc6c" style="filter:drop-shadow(0 0 1.1px rgba(30,170,75,.75))"/><rect x="627.30" y="557.8" width="4" height="14.9" rx="0.6" fill="#3ddc6c" style="filter:drop-shadow(0 0 1.1px rgba(30,170,75,.75))"/><rect x="633.06" y="557.8" width="4" height="14.9" rx="0.6" fill="#3ddc6c" style="filter:drop-shadow(0 0 1.1px rgba(30,170,75,.75))"/><rect x="638.82" y="557.8" width="4" height="14.9" rx="0.6" fill="#3ddc6c" style="filter:drop-shadow(0 0 1.1px rgba(30,170,75,.75))"/><rect x="644.58" y="557.8" width="4" height="14.9" rx="0.6" fill="#3f4245"/><rect x="650.34" y="557.8" width="4" height="14.9" rx="0.6" fill="#36383b"/><circle cx="371.7" cy="599.2" r="4.4" fill="#33d967" style="filter:drop-shadow(0 0 2px rgba(50,220,100,.5))"/><rect x="569.70" y="591.8" width="4" height="14.9" rx="0.6" fill="#3ddc6c" style="filter:drop-shadow(0 0 1.1px rgba(30,170,75,.75))"/><rect x="575.46" y="591.8" width="4" height="14.9" rx="0.6" fill="#3ddc6c" style="filter:drop-shadow(0 0 1.1px rgba(30,170,75,.75))"/><rect x="581.22" y="591.8" width="4" height="14.9" rx="0.6" fill="#3ddc6c" style="filter:drop-shadow(0 0 1.1px rgba(30,170,75,.75))"/><rect x="586.98" y="591.8" width="4" height="14.9" rx="0.6" fill="#3ddc6c" style="filter:drop-shadow(0 0 1.1px rgba(30,170,75,.75))"/><rect x="592.74" y="591.8" width="4" height="14.9" rx="0.6" fill="#3ddc6c" style="filter:drop-shadow(0 0 1.1px rgba(30,170,75,.75))"/><rect x="598.50" y="591.8" width="4" height="14.9" rx="0.6" fill="#3ddc6c" style="filter:drop-shadow(0 0 1.1px rgba(30,170,75,.75))"/><rect x="604.26" y="591.8" width="4" height="14.9" rx="0.6" fill="#3ddc6c" style="filter:drop-shadow(0 0 1.1px rgba(30,170,75,.75))"/><rect x="610.02" y="591.8" width="4" height="14.9" rx="0.6" fill="#3ddc6c" style="filter:drop-shadow(0 0 1.1px rgba(30,170,75,.75))"/><rect x="615.78" y="591.8" width="4" height="14.9" rx="0.6" fill="#3ddc6c" style="filter:drop-shadow(0 0 1.1px rgba(30,170,75,.75))"/><rect x="621.54" y="591.8" width="4" height="14.9" rx="0.6" fill="#3ddc6c" style="filter:drop-shadow(0 0 1.1px rgba(30,170,75,.75))"/><rect x="627.30" y="591.8" width="4" height="14.9" rx="0.6" fill="#3ddc6c" style="filter:drop-shadow(0 0 1.1px rgba(30,170,75,.75))"/><rect x="633.06" y="591.8" width="4" height="14.9" rx="0.6" fill="#3ddc6c" style="filter:drop-shadow(0 0 1.1px rgba(30,170,75,.75))"/><rect x="638.82" y="591.8" width="4" height="14.9" rx="0.6" fill="#3ddc6c" style="filter:drop-shadow(0 0 1.1px rgba(30,170,75,.75))"/><rect x="644.58" y="591.8" width="4" height="14.9" rx="0.6" fill="#2f9a50"/><rect x="650.34" y="591.8" width="4" height="14.9" rx="0.6" fill="#3f4245"/><circle cx="371.7" cy="633.2" r="4.4" fill="#33d967" style="filter:drop-shadow(0 0 2px rgba(50,220,100,.5))"/><rect x="569.70" y="625.8" width="4" height="14.9" rx="0.6" fill="#3ddc6c" style="filter:drop-shadow(0 0 1.1px rgba(30,170,75,.75))"/><rect x="575.46" y="625.8" width="4" height="14.9" rx="0.6" fill="#3ddc6c" style="filter:drop-shadow(0 0 1.1px rgba(30,170,75,.75))"/><rect x="581.22" y="625.8" width="4" height="14.9" rx="0.6" fill="#3ddc6c" style="filter:drop-shadow(0 0 1.1px rgba(30,170,75,.75))"/><rect x="586.98" y="625.8" width="4" height="14.9" rx="0.6" fill="#3ddc6c" style="filter:drop-shadow(0 0 1.1px rgba(30,170,75,.75))"/><rect x="592.74" y="625.8" width="4" height="14.9" rx="0.6" fill="#3ddc6c" style="filter:drop-shadow(0 0 1.1px rgba(30,170,75,.75))"/><rect x="598.50" y="625.8" width="4" height="14.9" rx="0.6" fill="#3ddc6c" style="filter:drop-shadow(0 0 1.1px rgba(30,170,75,.75))"/><rect x="604.26" y="625.8" width="4" height="14.9" rx="0.6" fill="#3ddc6c" style="filter:drop-shadow(0 0 1.1px rgba(30,170,75,.75))"/><rect x="610.02" y="625.8" width="4" height="14.9" rx="0.6" fill="#3ddc6c" style="filter:drop-shadow(0 0 1.1px rgba(30,170,75,.75))"/><rect x="615.78" y="625.8" width="4" height="14.9" rx="0.6" fill="#3ddc6c" style="filter:drop-shadow(0 0 1.1px rgba(30,170,75,.75))"/><rect x="621.54" y="625.8" width="4" height="14.9" rx="0.6" fill="#3ddc6c" style="filter:drop-shadow(0 0 1.1px rgba(30,170,75,.75))"/><rect x="627.30" y="625.8" width="4" height="14.9" rx="0.6" fill="#3ddc6c" style="filter:drop-shadow(0 0 1.1px rgba(30,170,75,.75))"/><rect x="633.06" y="625.8" width="4" height="14.9" rx="0.6" fill="#3f4245"/><rect x="638.82" y="625.8" width="4" height="14.9" rx="0.6" fill="#36383b"/><rect x="644.58" y="625.8" width="4" height="14.9" rx="0.6" fill="#36383b"/><rect x="650.34" y="625.8" width="4" height="14.9" rx="0.6" fill="#36383b"/><circle cx="371.7" cy="667.2" r="4.4" fill="#33d967" style="filter:drop-shadow(0 0 2px rgba(50,220,100,.5))"/><rect x="569.70" y="659.8" width="4" height="14.9" rx="0.6" fill="#3ddc6c" style="filter:drop-shadow(0 0 1.1px rgba(30,170,75,.75))"/><rect x="575.46" y="659.8" width="4" height="14.9" rx="0.6" fill="#3ddc6c" style="filter:drop-shadow(0 0 1.1px rgba(30,170,75,.75))"/><rect x="581.22" y="659.8" width="4" height="14.9" rx="0.6" fill="#3ddc6c" style="filter:drop-shadow(0 0 1.1px rgba(30,170,75,.75))"/><rect x="586.98" y="659.8" width="4" height="14.9" rx="0.6" fill="#3ddc6c" style="filter:drop-shadow(0 0 1.1px rgba(30,170,75,.75))"/><rect x="592.74" y="659.8" width="4" height="14.9" rx="0.6" fill="#3ddc6c" style="filter:drop-shadow(0 0 1.1px rgba(30,170,75,.75))"/><rect x="598.50" y="659.8" width="4" height="14.9" rx="0.6" fill="#3ddc6c" style="filter:drop-shadow(0 0 1.1px rgba(30,170,75,.75))"/><rect x="604.26" y="659.8" width="4" height="14.9" rx="0.6" fill="#3ddc6c" style="filter:drop-shadow(0 0 1.1px rgba(30,170,75,.75))"/><rect x="610.02" y="659.8" width="4" height="14.9" rx="0.6" fill="#3ddc6c" style="filter:drop-shadow(0 0 1.1px rgba(30,170,75,.75))"/><rect x="615.78" y="659.8" width="4" height="14.9" rx="0.6" fill="#3ddc6c" style="filter:drop-shadow(0 0 1.1px rgba(30,170,75,.75))"/><rect x="621.54" y="659.8" width="4" height="14.9" rx="0.6" fill="#3f4245"/><rect x="627.30" y="659.8" width="4" height="14.9" rx="0.6" fill="#36383b"/><rect x="633.06" y="659.8" width="4" height="14.9" rx="0.6" fill="#36383b"/><rect x="638.82" y="659.8" width="4" height="14.9" rx="0.6" fill="#36383b"/><rect x="644.58" y="659.8" width="4" height="14.9" rx="0.6" fill="#36383b"/><rect x="650.34" y="659.8" width="4" height="14.9" rx="0.6" fill="#36383b"/><circle cx="371.7" cy="701.2" r="4.4" fill="#33d967" style="filter:drop-shadow(0 0 2px rgba(50,220,100,.5))"/><rect x="569.70" y="693.8" width="4" height="14.9" rx="0.6" fill="#3ddc6c" style="filter:drop-shadow(0 0 1.1px rgba(30,170,75,.75))"/><rect x="575.46" y="693.8" width="4" height="14.9" rx="0.6" fill="#3ddc6c" style="filter:drop-shadow(0 0 1.1px rgba(30,170,75,.75))"/><rect x="581.22" y="693.8" width="4" height="14.9" rx="0.6" fill="#3ddc6c" style="filter:drop-shadow(0 0 1.1px rgba(30,170,75,.75))"/><rect x="586.98" y="693.8" width="4" height="14.9" rx="0.6" fill="#3ddc6c" style="filter:drop-shadow(0 0 1.1px rgba(30,170,75,.75))"/><rect x="592.74" y="693.8" width="4" height="14.9" rx="0.6" fill="#3ddc6c" style="filter:drop-shadow(0 0 1.1px rgba(30,170,75,.75))"/><rect x="598.50" y="693.8" width="4" height="14.9" rx="0.6" fill="#3ddc6c" style="filter:drop-shadow(0 0 1.1px rgba(30,170,75,.75))"/><rect x="604.26" y="693.8" width="4" height="14.9" rx="0.6" fill="#3ddc6c" style="filter:drop-shadow(0 0 1.1px rgba(30,170,75,.75))"/><rect x="610.02" y="693.8" width="4" height="14.9" rx="0.6" fill="#3ddc6c" style="filter:drop-shadow(0 0 1.1px rgba(30,170,75,.75))"/><rect x="615.78" y="693.8" width="4" height="14.9" rx="0.6" fill="#3ddc6c" style="filter:drop-shadow(0 0 1.1px rgba(30,170,75,.75))"/><rect x="621.54" y="693.8" width="4" height="14.9" rx="0.6" fill="#3ddc6c" style="filter:drop-shadow(0 0 1.1px rgba(30,170,75,.75))"/><rect x="627.30" y="693.8" width="4" height="14.9" rx="0.6" fill="#3ddc6c" style="filter:drop-shadow(0 0 1.1px rgba(30,170,75,.75))"/><rect x="633.06" y="693.8" width="4" height="14.9" rx="0.6" fill="#3f4245"/><rect x="638.82" y="693.8" width="4" height="14.9" rx="0.6" fill="#36383b"/><rect x="644.58" y="693.8" width="4" height="14.9" rx="0.6" fill="#36383b"/><rect x="650.34" y="693.8" width="4" height="14.9" rx="0.6" fill="#36383b"/><circle cx="371.7" cy="735.2" r="4.4" fill="#33d967" style="filter:drop-shadow(0 0 2px rgba(50,220,100,.5))"/><rect x="569.70" y="727.8" width="4" height="14.9" rx="0.6" fill="#3ddc6c" style="filter:drop-shadow(0 0 1.1px rgba(30,170,75,.75))"/><rect x="575.46" y="727.8" width="4" height="14.9" rx="0.6" fill="#3ddc6c" style="filter:drop-shadow(0 0 1.1px rgba(30,170,75,.75))"/><rect x="581.22" y="727.8" width="4" height="14.9" rx="0.6" fill="#3ddc6c" style="filter:drop-shadow(0 0 1.1px rgba(30,170,75,.75))"/><rect x="586.98" y="727.8" width="4" height="14.9" rx="0.6" fill="#3ddc6c" style="filter:drop-shadow(0 0 1.1px rgba(30,170,75,.75))"/><rect x="592.74" y="727.8" width="4" height="14.9" rx="0.6" fill="#3ddc6c" style="filter:drop-shadow(0 0 1.1px rgba(30,170,75,.75))"/><rect x="598.50" y="727.8" width="4" height="14.9" rx="0.6" fill="#3ddc6c" style="filter:drop-shadow(0 0 1.1px rgba(30,170,75,.75))"/><rect x="604.26" y="727.8" width="4" height="14.9" rx="0.6" fill="#3ddc6c" style="filter:drop-shadow(0 0 1.1px rgba(30,170,75,.75))"/><rect x="610.02" y="727.8" width="4" height="14.9" rx="0.6" fill="#3ddc6c" style="filter:drop-shadow(0 0 1.1px rgba(30,170,75,.75))"/><rect x="615.78" y="727.8" width="4" height="14.9" rx="0.6" fill="#2f9a50"/><rect x="621.54" y="727.8" width="4" height="14.9" rx="0.6" fill="#2f9a50"/><rect x="627.30" y="727.8" width="4" height="14.9" rx="0.6" fill="#3f4245"/><rect x="633.06" y="727.8" width="4" height="14.9" rx="0.6" fill="#36383b"/><rect x="638.82" y="727.8" width="4" height="14.9" rx="0.6" fill="#36383b"/><rect x="644.58" y="727.8" width="4" height="14.9" rx="0.6" fill="#36383b"/><rect x="650.34" y="727.8" width="4" height="14.9" rx="0.6" fill="#36383b"/></svg>
<div class="t" style="left:712.20px;top:546.49px;font-size:12.3px;color:#f1f2f3;transform:scaleX(0.9755);transform-origin:0 0;">Recent alert</div>
<div class="t" style="left:712.20px;top:562.93px;font-size:9.7px;color:#8c8f93;transform:scaleX(1.0750);transform-origin:0 0;">Recent alerts of trs SVR-01: wseranometer has</div>
<div class="t" style="left:712.20px;top:575.13px;font-size:9.7px;color:#8c8f93;transform:scaleX(1.0661);transform-origin:0 0;">been to rrs over time.</div>
<div class="hl" style="left:689px;top:591.7px;width:276px;background:#2a2d30"></div>
<div class="t" style="left:712.20px;top:600.59px;font-size:12.3px;color:#f1f2f3;transform:scaleX(0.9755);transform-origin:0 0;">Recent alert</div>
<div class="t" style="left:712.20px;top:617.03px;font-size:9.7px;color:#8c8f93;transform:scaleX(1.0778);transform-origin:0 0;">Recent aiarts of ite SVR-01: wserantoneter has</div>
<div class="t" style="left:712.20px;top:629.23px;font-size:9.7px;color:#8c8f93;transform:scaleX(1.0851);transform-origin:0 0;">been to its over time.</div>
<div class="hl" style="left:689px;top:645.7px;width:276px;background:#2a2d30"></div>
<div class="t" style="left:712.20px;top:654.69px;font-size:12.3px;color:#f1f2f3;transform:scaleX(0.9755);transform-origin:0 0;">Recent alert</div>
<div class="t" style="left:712.20px;top:671.13px;font-size:9.7px;color:#8c8f93;transform:scaleX(1.0750);transform-origin:0 0;">Recent alerts of tte SVR-01: wseranometer has</div>
<div class="t" style="left:712.20px;top:683.33px;font-size:9.7px;color:#8c8f93;transform:scaleX(1.0787);transform-origin:0 0;">been to os over time.</div>
<div class="hl" style="left:689px;top:699.7px;width:276px;background:#2a2d30"></div>
<div class="t" style="left:712.20px;top:708.79px;font-size:12.3px;color:#f1f2f3;transform:scaleX(0.9755);transform-origin:0 0;">Recent alert</div>
<div class="t" style="left:712.20px;top:725.23px;font-size:9.7px;color:#8c8f93;transform:scaleX(1.0750);transform-origin:0 0;">Recent alerts of tte SVR-01: wseranometer has</div>
<div class="t" style="left:712.20px;top:737.43px;font-size:9.7px;color:#8c8f93;transform:scaleX(1.0661);transform-origin:0 0;">been to rrs over time.</div>
<svg width="1024" height="1024"><path d="M697.1,547.8 L702.6,557.4 L691.6,557.4 Z" fill="#f0703a" stroke="#f0703a" stroke-width="2.4" stroke-linejoin="round" style="filter:drop-shadow(0 0 0.9px rgba(70,25,5,.95))"/><rect x="696.4" y="551.0" width="1.4" height="2.6" rx="0.6" fill="#4a2010"/><circle cx="697.1" cy="555.7" r="0.8" fill="#4a2010"/><path d="M697.1,601.9 L702.6,611.5 L691.6,611.5 Z" fill="#f0703a" stroke="#f0703a" stroke-width="2.4" stroke-linejoin="round" style="filter:drop-shadow(0 0 0.9px rgba(70,25,5,.95))"/><rect x="696.4" y="605.1" width="1.4" height="2.6" rx="0.6" fill="#4a2010"/><circle cx="697.1" cy="609.8" r="0.8" fill="#4a2010"/><path d="M697.1,656.0 L702.6,665.6 L691.6,665.6 Z" fill="#f0703a" stroke="#f0703a" stroke-width="2.4" stroke-linejoin="round" style="filter:drop-shadow(0 0 0.9px rgba(70,25,5,.95))"/><rect x="696.4" y="659.2" width="1.4" height="2.6" rx="0.6" fill="#4a2010"/><circle cx="697.1" cy="663.9" r="0.8" fill="#4a2010"/><path d="M697.1,710.1 L702.6,719.7 L691.6,719.7 Z" fill="#f0703a" stroke="#f0703a" stroke-width="2.4" stroke-linejoin="round" style="filter:drop-shadow(0 0 0.9px rgba(70,25,5,.95))"/><rect x="696.4" y="713.3" width="1.4" height="2.6" rx="0.6" fill="#4a2010"/><circle cx="697.1" cy="718.0" r="0.8" fill="#4a2010"/></svg>
<svg width="1024" height="1024"><g stroke="#2f3235" stroke-width="1"><path d="M93,827.3 H327.6"/><path d="M93,849.9 H327.6"/><path d="M93,872.7 H327.6"/><path d="M93,895.5 H327.6"/><path d="M93,918.4 H327.6"/><path d="M93,941.2 H327.6"/></g><path d="M93.4,908.1 C94.5,905.7 95.5,903.9 96.6,900.8 C97.6,898.0 98.6,892.6 99.5,889.1 C100.3,886.4 101.0,882.6 101.7,881.8 C102.5,881.0 103.2,880.3 103.9,880.3 C104.9,880.3 105.9,882.8 106.9,884.0 C107.8,885.1 108.8,887.3 109.8,887.3 C111.5,887.3 113.2,886.5 114.9,886.5 C115.7,886.5 116.4,888.0 117.1,889.1 C118.1,890.6 119.1,894.5 120.1,895.7 C121.3,897.2 122.5,898.4 123.7,898.6 C124.9,898.9 126.2,899.1 127.4,899.1 C128.6,899.1 129.8,897.4 131.0,895.7 C132.0,894.4 133.0,890.5 134.0,888.4 C134.7,886.7 135.4,884.0 136.2,884.0 C137.0,884.0 137.9,884.0 138.8,884.0 C139.6,884.0 140.5,889.6 141.3,892.0 C142.0,894.2 142.8,897.5 143.5,897.9 C144.2,898.3 145.0,898.6 145.7,898.6 C146.9,898.6 148.1,894.7 149.4,893.5 C150.2,892.6 151.1,891.3 152.0,891.3 C153.1,891.3 154.1,893.8 155.2,895.0 C156.4,896.3 157.7,898.9 158.9,898.9 C160.1,898.9 161.3,897.7 162.5,896.4 C163.8,895.2 165.0,890.7 166.2,888.4 C167.2,886.5 168.1,883.7 169.1,883.2 C170.1,882.8 171.1,882.5 172.1,882.5 C173.5,882.5 175.0,885.4 176.4,885.4 C177.9,885.4 179.4,883.7 180.8,883.7 C181.8,883.7 182.8,885.1 183.8,886.2 C184.7,887.2 185.7,890.3 186.7,890.3 C187.7,890.3 188.7,890.3 189.6,890.3 C190.6,890.3 191.6,886.8 192.6,884.7 C193.5,882.6 194.5,878.9 195.5,877.4 C197.3,874.6 199.1,874.5 200.9,871.5 C202.1,869.5 203.3,863.7 204.5,859.8 C205.5,856.7 206.5,851.6 207.5,850.3 C208.2,849.3 208.9,848.4 209.6,848.4 C210.4,848.4 211.1,849.7 211.8,851.0 C212.8,852.7 213.8,859.0 214.8,861.3 C215.8,863.5 216.7,866.4 217.7,866.4 C219.4,866.4 221.1,866.4 222.8,866.4 C225.0,866.4 227.2,866.4 229.4,866.4 C230.6,866.4 231.9,861.7 233.1,859.1 C234.5,855.9 236.0,850.7 237.5,848.8 C238.9,846.9 240.4,845.3 241.9,844.9 C243.3,844.4 244.8,844.0 246.3,844.0 C247.2,844.0 248.2,845.6 249.2,847.4 C250.2,849.1 251.1,855.4 252.1,858.3 C253.1,861.3 254.1,865.5 255.1,865.7 C256.8,865.9 258.5,865.8 260.2,866.0 C261.2,866.1 262.1,868.3 263.1,869.3 C264.3,870.6 265.6,873.0 266.8,873.0 C267.8,873.0 268.7,868.7 269.7,865.7 C270.7,862.7 271.7,855.0 272.6,853.9 C273.4,853.1 274.1,852.5 274.8,852.5 C276.1,852.5 277.3,856.0 278.5,858.3 C280.0,861.1 281.4,865.8 282.9,868.6 C284.1,870.9 285.3,873.5 286.5,874.4 C287.5,875.2 288.5,875.9 289.5,875.9 C290.7,875.9 291.9,873.5 293.1,872.3 C294.6,870.7 296.1,867.9 297.5,867.4 C298.5,867.1 299.5,866.8 300.5,866.8 C301.4,866.8 302.4,869.9 303.4,871.5 C304.6,873.6 305.8,878.1 307.1,878.1 C308.3,878.1 309.5,878.1 310.7,878.1 C312.2,878.1 313.6,876.8 315.1,875.2 C316.6,873.6 318.0,863.8 319.5,860.5 C321.0,857.3 322.4,855.0 323.9,853.2 C325.1,851.7 326.3,850.8 327.6,849.5 L327.6,941.2 L93.4,941.2 Z" fill="url(#gD)"/><path d="M93.4,908.1 C94.5,905.7 95.5,903.9 96.6,900.8 C97.6,898.0 98.6,892.6 99.5,889.1 C100.3,886.4 101.0,882.6 101.7,881.8 C102.5,881.0 103.2,880.3 103.9,880.3 C104.9,880.3 105.9,882.8 106.9,884.0 C107.8,885.1 108.8,887.3 109.8,887.3 C111.5,887.3 113.2,886.5 114.9,886.5 C115.7,886.5 116.4,888.0 117.1,889.1 C118.1,890.6 119.1,894.5 120.1,895.7 C121.3,897.2 122.5,898.4 123.7,898.6 C124.9,898.9 126.2,899.1 127.4,899.1 C128.6,899.1 129.8,897.4 131.0,895.7 C132.0,894.4 133.0,890.5 134.0,888.4 C134.7,886.7 135.4,884.0 136.2,884.0 C137.0,884.0 137.9,884.0 138.8,884.0 C139.6,884.0 140.5,889.6 141.3,892.0 C142.0,894.2 142.8,897.5 143.5,897.9 C144.2,898.3 145.0,898.6 145.7,898.6 C146.9,898.6 148.1,894.7 149.4,893.5 C150.2,892.6 151.1,891.3 152.0,891.3 C153.1,891.3 154.1,893.8 155.2,895.0 C156.4,896.3 157.7,898.9 158.9,898.9 C160.1,898.9 161.3,897.7 162.5,896.4 C163.8,895.2 165.0,890.7 166.2,888.4 C167.2,886.5 168.1,883.7 169.1,883.2 C170.1,882.8 171.1,882.5 172.1,882.5 C173.5,882.5 175.0,885.4 176.4,885.4 C177.9,885.4 179.4,883.7 180.8,883.7 C181.8,883.7 182.8,885.1 183.8,886.2 C184.7,887.2 185.7,890.3 186.7,890.3 C187.7,890.3 188.7,890.3 189.6,890.3 C190.6,890.3 191.6,886.8 192.6,884.7 C193.5,882.6 194.5,878.9 195.5,877.4 C197.3,874.6 199.1,874.5 200.9,871.5 C202.1,869.5 203.3,863.7 204.5,859.8 C205.5,856.7 206.5,851.6 207.5,850.3 C208.2,849.3 208.9,848.4 209.6,848.4 C210.4,848.4 211.1,849.7 211.8,851.0 C212.8,852.7 213.8,859.0 214.8,861.3 C215.8,863.5 216.7,866.4 217.7,866.4 C219.4,866.4 221.1,866.4 222.8,866.4 C225.0,866.4 227.2,866.4 229.4,866.4 C230.6,866.4 231.9,861.7 233.1,859.1 C234.5,855.9 236.0,850.7 237.5,848.8 C238.9,846.9 240.4,845.3 241.9,844.9 C243.3,844.4 244.8,844.0 246.3,844.0 C247.2,844.0 248.2,845.6 249.2,847.4 C250.2,849.1 251.1,855.4 252.1,858.3 C253.1,861.3 254.1,865.5 255.1,865.7 C256.8,865.9 258.5,865.8 260.2,866.0 C261.2,866.1 262.1,868.3 263.1,869.3 C264.3,870.6 265.6,873.0 266.8,873.0 C267.8,873.0 268.7,868.7 269.7,865.7 C270.7,862.7 271.7,855.0 272.6,853.9 C273.4,853.1 274.1,852.5 274.8,852.5 C276.1,852.5 277.3,856.0 278.5,858.3 C280.0,861.1 281.4,865.8 282.9,868.6 C284.1,870.9 285.3,873.5 286.5,874.4 C287.5,875.2 288.5,875.9 289.5,875.9 C290.7,875.9 291.9,873.5 293.1,872.3 C294.6,870.7 296.1,867.9 297.5,867.4 C298.5,867.1 299.5,866.8 300.5,866.8 C301.4,866.8 302.4,869.9 303.4,871.5 C304.6,873.6 305.8,878.1 307.1,878.1 C308.3,878.1 309.5,878.1 310.7,878.1 C312.2,878.1 313.6,876.8 315.1,875.2 C316.6,873.6 318.0,863.8 319.5,860.5 C321.0,857.3 322.4,855.0 323.9,853.2 C325.1,851.7 326.3,850.8 327.6,849.5" fill="none" stroke="#43e076" stroke-width="1.6" stroke-linejoin="round" stroke-linecap="round" style="filter:drop-shadow(0 0 1.5px rgba(60,230,120,.5))"/></svg>
<div class="t" style="left:71.00px;top:822.03px;font-size:9.7px;color:#a4a7ab;transform:scaleX(0.9521);transform-origin:0 0;-webkit-text-stroke:0.08px currentColor;">100</div>
<div class="t" style="left:75.40px;top:844.63px;font-size:9.7px;color:#a4a7ab;transform:scaleX(1.0193);transform-origin:0 0;-webkit-text-stroke:0.08px currentColor;">80</div>
<div class="t" style="left:75.40px;top:867.43px;font-size:9.7px;color:#a4a7ab;transform:scaleX(1.0193);transform-origin:0 0;-webkit-text-stroke:0.08px currentColor;">60</div>
<div class="t" style="left:75.40px;top:890.23px;font-size:9.7px;color:#a4a7ab;transform:scaleX(1.0193);transform-origin:0 0;-webkit-text-stroke:0.08px currentColor;">40</div>
<div class="t" style="left:75.40px;top:913.13px;font-size:9.7px;color:#a4a7ab;transform:scaleX(1.0193);transform-origin:0 0;-webkit-text-stroke:0.08px currentColor;">20</div>
<div class="t" style="left:80.80px;top:935.93px;font-size:9.7px;color:#a4a7ab;transform:scaleX(1.0402);transform-origin:0 0;-webkit-text-stroke:0.08px currentColor;">0</div>
<svg width="1024" height="1024"><g fill="none" stroke-linecap="round"><circle cx="428.7" cy="882.1" r="52.6" stroke="#3b3d41" stroke-width="10"/><circle cx="428.7" cy="882.1" r="39.1" stroke="#3b3d41" stroke-width="9.8"/><circle cx="428.7" cy="882.1" r="45.8" stroke="#0f1512" stroke-width="3.6" opacity=".9"/><path d="M430.54,829.53 A52.6,52.6 0 1 1 381.83,858.22" stroke="#35e06a" stroke-width="10" style="filter:drop-shadow(0 0 1.5px rgba(30,160,70,.6))"/><path d="M430.75,843.05 A39.1,39.1 0 1 1 397.89,906.17" stroke="#35e06a" stroke-width="9.8" style="filter:drop-shadow(0 0 1.5px rgba(30,160,70,.6))"/></g><g fill="none" stroke-linecap="round"><circle cx="751" cy="882.1" r="52.6" stroke="#3b3d41" stroke-width="10"/><circle cx="751" cy="882.1" r="39.1" stroke="#3b3d41" stroke-width="9.8"/><circle cx="751" cy="882.1" r="45.8" stroke="#0f1512" stroke-width="3.6" opacity=".9"/><path d="M752.84,829.53 A52.6,52.6 0 1 1 701.27,899.22" stroke="#35e06a" stroke-width="10" style="filter:drop-shadow(0 0 1.5px rgba(30,160,70,.6))"/><path d="M753.05,843.05 A39.1,39.1 0 0 1 782.23,905.63" stroke="#35e06a" stroke-width="9.8" style="filter:drop-shadow(0 0 1.5px rgba(30,160,70,.6))"/></g><g stroke="#2f3235" stroke-width="1"><path d="M530.5,828.1 H645"/><path d="M530.5,853.7 H645"/><path d="M530.5,879.3 H645"/><path d="M530.5,904.8 H645"/><path d="M530.5,930.4 H645"/></g><rect x="534" y="828.1" width="18.7" height="102.4" fill="#38393d"/><rect x="534" y="866.7" width="18.7" height="63.8" fill="#2fe066" style="filter:drop-shadow(0 0 1px rgba(30,160,70,.6))"/><rect x="563.7" y="828.1" width="18.7" height="102.4" fill="#38393d"/><rect x="563.7" y="885" width="18.7" height="45.5" fill="#2fe066" style="filter:drop-shadow(0 0 1px rgba(30,160,70,.6))"/><rect x="593.4" y="828.1" width="18.7" height="102.4" fill="#38393d"/><rect x="593.4" y="843.8" width="18.7" height="86.7" fill="#2fe066" style="filter:drop-shadow(0 0 1px rgba(30,160,70,.6))"/><rect x="623.1" y="828.1" width="18.7" height="102.4" fill="#38393d"/><rect x="623.1" y="868.6" width="18.7" height="61.9" fill="#2fe066" style="filter:drop-shadow(0 0 1px rgba(30,160,70,.6))"/><circle cx="838.4" cy="838.1" r="7.2" fill="#2fe066"/><rect x="851.7" y="831.1" width="111" height="14" rx="7" fill="#38393d"/><rect x="851.7" y="831.1" width="55.5" height="14" rx="7" fill="#2fe066" style="filter:drop-shadow(0 0 1.5px rgba(30,160,70,.6))"/><circle cx="838.4" cy="867.5" r="7.2" fill="#2d5c40"/><rect x="851.7" y="860.5" width="111" height="14" rx="7" fill="#38393d"/><rect x="851.7" y="860.5" width="94.5" height="14" rx="7" fill="#2fe066" style="filter:drop-shadow(0 0 1.5px rgba(30,160,70,.6))"/><circle cx="838.4" cy="896.8" r="7.2" fill="#3e4144"/><rect x="851.7" y="889.8" width="111" height="14" rx="7" fill="#38393d"/><rect x="851.7" y="889.8" width="55.8" height="14" rx="7" fill="#2fe066" style="filter:drop-shadow(0 0 1.5px rgba(30,160,70,.6))"/><circle cx="838.4" cy="926.2" r="7.2" fill="#3a3c3f"/><rect x="851.7" y="919.2" width="111" height="14" rx="7" fill="#38393d"/><rect x="851.7" y="919.2" width="75.0" height="14" rx="7" fill="#2fe066" style="filter:drop-shadow(0 0 1.5px rgba(30,160,70,.6))"/></svg>
<div class="t" style="left:507.00px;top:824.10px;font-size:10px;color:#a4a7ab;transform:scaleX(1.0315);transform-origin:0 0;-webkit-text-stroke:0.08px currentColor;">200</div>
<div class="t" style="left:507.00px;top:849.70px;font-size:10px;color:#a4a7ab;transform:scaleX(1.0315);transform-origin:0 0;-webkit-text-stroke:0.08px currentColor;">150</div>
<div class="t" style="left:507.00px;top:875.29px;font-size:10px;color:#a4a7ab;transform:scaleX(1.0315);transform-origin:0 0;-webkit-text-stroke:0.08px currentColor;">100</div>
<div class="t" style="left:513.30px;top:900.79px;font-size:10px;color:#a4a7ab;transform:scaleX(0.9798);transform-origin:0 0;-webkit-text-stroke:0.08px currentColor;">50</div>
<div class="t" style="left:518.70px;top:926.39px;font-size:10px;color:#a4a7ab;transform:scaleX(0.9910);transform-origin:0 0;-webkit-text-stroke:0.08px currentColor;">0</div>
<div class="t" style="left:536.00px;top:937.50px;font-size:10px;color:#a4a7ab;transform:scaleX(0.8992);transform-origin:0 0;-webkit-text-stroke:0.08px currentColor;">Jan</div>
<div class="t" style="left:564.50px;top:937.50px;font-size:10px;color:#a4a7ab;transform:scaleX(0.8992);transform-origin:0 0;-webkit-text-stroke:0.08px currentColor;">Dep</div>
<div class="t" style="left:594.20px;top:937.50px;font-size:10px;color:#a4a7ab;transform:scaleX(0.9579);transform-origin:0 0;-webkit-text-stroke:0.08px currentColor;">Mar</div>
<div class="t" style="left:624.70px;top:937.50px;font-size:10px;color:#a4a7ab;transform:scaleX(0.9325);transform-origin:0 0;-webkit-text-stroke:0.08px currentColor;">Apr</div>
</div></body></html>
